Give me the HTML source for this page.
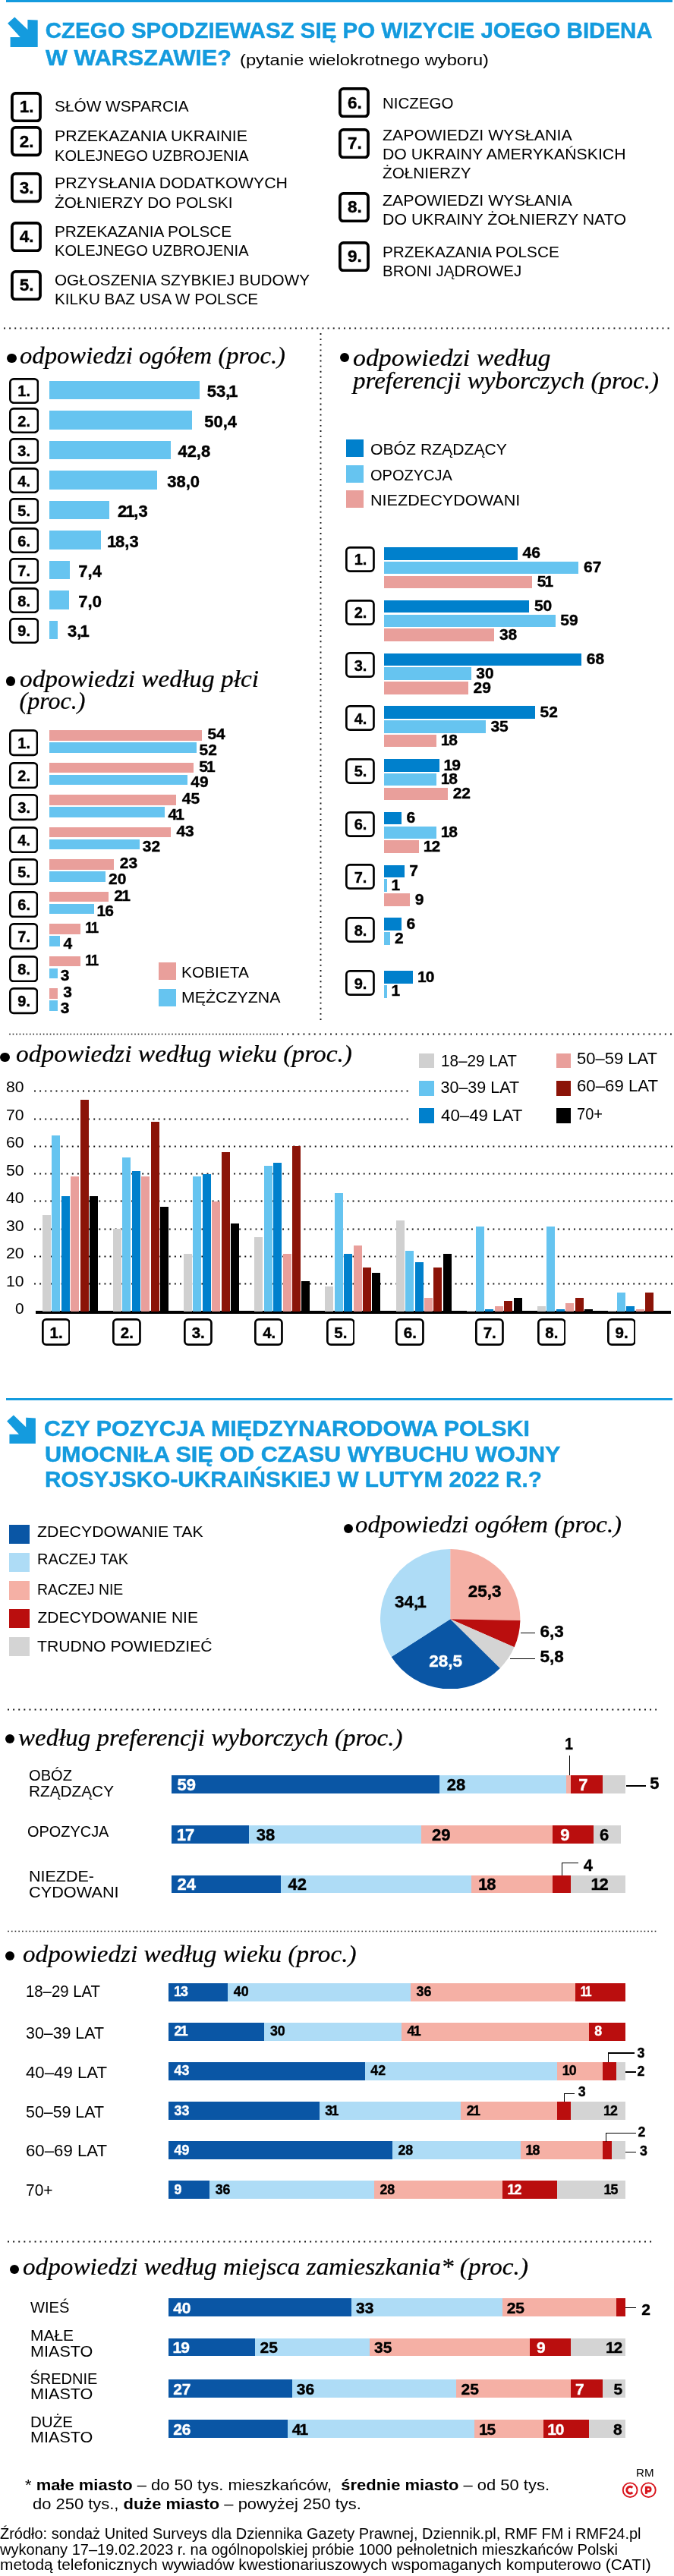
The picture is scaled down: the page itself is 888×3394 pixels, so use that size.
<!DOCTYPE html><html lang="pl"><head><meta charset="utf-8"><title>Sondaż</title><style>html,body{margin:0;padding:0;background:#fff}#p{will-change:transform;position:relative;width:888px;height:3394px;overflow:hidden;background:#fff;font-family:"Liberation Sans",sans-serif}</style></head><body><div id="p">
<div style="position:absolute;left:8.0px;top:0.0px;width:878.0px;height:2.5px;background:#149bde;"></div>
<svg style="position:absolute;left:10px;top:22px" width="42" height="42" viewBox="0 0 42 42"><path d="M0.1 8.8 L9.3 0.6 L26.4 16.9 L26.4 4 L39.7 4.6 L39.7 39.9 L3.6 39.9 L3.6 26.9 L16.7 26.9 Z" fill="#149bde"/></svg>
<span id="t0" style="position:absolute;top:24.58px;font-family:'Liberation Sans', sans-serif;font-size:29.5px;line-height:29.5px;white-space:nowrap;color:#149bde;font-weight:700;-webkit-text-stroke:0.45px #149bde;left:59.80px;transform-origin:0 0;">CZEGO SPODZIEWASZ SIĘ PO WIZYCIE JOEGO BIDENA</span>
<span id="t1" style="position:absolute;top:60.98px;font-family:'Liberation Sans', sans-serif;font-size:29.5px;line-height:29.5px;white-space:nowrap;color:#149bde;font-weight:700;-webkit-text-stroke:0.45px #149bde;left:59.80px;transform-origin:0 0;transform:scaleX(1.0382);">W WARSZAWIE?</span>
<span id="t2" style="position:absolute;top:67.99px;font-family:'Liberation Sans', sans-serif;font-size:21px;line-height:21px;white-space:nowrap;color:#000;left:316.00px;transform-origin:0 0;transform:scaleX(1.1285);">(pytanie wielokrotnego wyboru)</span>
<svg style="position:absolute;left:14.2px;top:120.9px" width="40.9" height="40.3"><rect x="1.90" y="1.90" width="37.10" height="36.50" rx="4.60" fill="#fff" stroke="#000" stroke-width="3.8"/></svg>
<span id="t3" style="position:absolute;top:130.41px;font-family:'Liberation Sans', sans-serif;font-size:22.5px;line-height:22.5px;white-space:nowrap;color:#000;font-weight:700;-webkit-text-stroke:0.4px #000;left:25.77px;transform-origin:0 0;">1.</span>
<span id="t4" style="position:absolute;top:129.94px;font-family:'Liberation Sans', sans-serif;font-size:20px;line-height:20px;white-space:nowrap;color:#000;left:71.80px;transform-origin:0 0;transform:scaleX(1.0409);">SŁÓW WSPARCIA</span>
<svg style="position:absolute;left:14.2px;top:166.3px" width="40.9" height="40.3"><rect x="1.90" y="1.90" width="37.10" height="36.50" rx="4.60" fill="#fff" stroke="#000" stroke-width="3.8"/></svg>
<span id="t5" style="position:absolute;top:175.81px;font-family:'Liberation Sans', sans-serif;font-size:22.5px;line-height:22.5px;white-space:nowrap;color:#000;font-weight:700;-webkit-text-stroke:0.4px #000;left:25.77px;transform-origin:0 0;">2.</span>
<span id="t6" style="position:absolute;top:169.44px;font-family:'Liberation Sans', sans-serif;font-size:20px;line-height:20px;white-space:nowrap;color:#000;left:71.80px;transform-origin:0 0;transform:scaleX(1.0679);">PRZEKAZANIA UKRAINIE</span>
<span id="t7" style="position:absolute;top:194.54px;font-family:'Liberation Sans', sans-serif;font-size:20px;line-height:20px;white-space:nowrap;color:#000;left:71.80px;transform-origin:0 0;transform:scaleX(1.0043);">KOLEJNEGO UZBROJENIA</span>
<svg style="position:absolute;left:14.2px;top:227.3px" width="40.9" height="40.3"><rect x="1.90" y="1.90" width="37.10" height="36.50" rx="4.60" fill="#fff" stroke="#000" stroke-width="3.8"/></svg>
<span id="t8" style="position:absolute;top:236.81px;font-family:'Liberation Sans', sans-serif;font-size:22.5px;line-height:22.5px;white-space:nowrap;color:#000;font-weight:700;-webkit-text-stroke:0.4px #000;left:25.77px;transform-origin:0 0;">3.</span>
<span id="t9" style="position:absolute;top:231.34px;font-family:'Liberation Sans', sans-serif;font-size:20px;line-height:20px;white-space:nowrap;color:#000;left:71.80px;transform-origin:0 0;transform:scaleX(1.0680);">PRZYSŁANIA DODATKOWYCH</span>
<span id="t10" style="position:absolute;top:256.74px;font-family:'Liberation Sans', sans-serif;font-size:20px;line-height:20px;white-space:nowrap;color:#000;left:71.80px;transform-origin:0 0;transform:scaleX(1.0411);">ŻOŁNIERZY DO POLSKI</span>
<svg style="position:absolute;left:14.2px;top:291.5px" width="40.9" height="40.3"><rect x="1.90" y="1.90" width="37.10" height="36.50" rx="4.60" fill="#fff" stroke="#000" stroke-width="3.8"/></svg>
<span id="t11" style="position:absolute;top:301.01px;font-family:'Liberation Sans', sans-serif;font-size:22.5px;line-height:22.5px;white-space:nowrap;color:#000;font-weight:700;-webkit-text-stroke:0.4px #000;left:25.77px;transform-origin:0 0;">4.</span>
<span id="t12" style="position:absolute;top:295.24px;font-family:'Liberation Sans', sans-serif;font-size:20px;line-height:20px;white-space:nowrap;color:#000;left:71.80px;transform-origin:0 0;transform:scaleX(1.0387);">PRZEKAZANIA POLSCE</span>
<span id="t13" style="position:absolute;top:320.34px;font-family:'Liberation Sans', sans-serif;font-size:20px;line-height:20px;white-space:nowrap;color:#000;left:71.80px;transform-origin:0 0;transform:scaleX(1.0043);">KOLEJNEGO UZBROJENIA</span>
<svg style="position:absolute;left:14.2px;top:355.7px" width="40.9" height="40.3"><rect x="1.90" y="1.90" width="37.10" height="36.50" rx="4.60" fill="#fff" stroke="#000" stroke-width="3.8"/></svg>
<span id="t14" style="position:absolute;top:365.21px;font-family:'Liberation Sans', sans-serif;font-size:22.5px;line-height:22.5px;white-space:nowrap;color:#000;font-weight:700;-webkit-text-stroke:0.4px #000;left:25.77px;transform-origin:0 0;">5.</span>
<span id="t15" style="position:absolute;top:359.14px;font-family:'Liberation Sans', sans-serif;font-size:20px;line-height:20px;white-space:nowrap;color:#000;left:71.80px;transform-origin:0 0;transform:scaleX(1.0354);">OGŁOSZENIA SZYBKIEJ BUDOWY</span>
<span id="t16" style="position:absolute;top:384.24px;font-family:'Liberation Sans', sans-serif;font-size:20px;line-height:20px;white-space:nowrap;color:#000;left:71.80px;transform-origin:0 0;transform:scaleX(1.0356);">KILKU BAZ USA W POLSCE</span>
<svg style="position:absolute;left:446.4px;top:115.1px" width="40.9" height="40.3"><rect x="1.90" y="1.90" width="37.10" height="36.50" rx="4.60" fill="#fff" stroke="#000" stroke-width="3.8"/></svg>
<span id="t17" style="position:absolute;top:124.61px;font-family:'Liberation Sans', sans-serif;font-size:22.5px;line-height:22.5px;white-space:nowrap;color:#000;font-weight:700;-webkit-text-stroke:0.4px #000;left:457.97px;transform-origin:0 0;">6.</span>
<span id="t18" style="position:absolute;top:125.84px;font-family:'Liberation Sans', sans-serif;font-size:20px;line-height:20px;white-space:nowrap;color:#000;left:503.80px;transform-origin:0 0;transform:scaleX(1.0261);">NICZEGO</span>
<svg style="position:absolute;left:446.4px;top:168.5px" width="40.9" height="40.3"><rect x="1.90" y="1.90" width="37.10" height="36.50" rx="4.60" fill="#fff" stroke="#000" stroke-width="3.8"/></svg>
<span id="t19" style="position:absolute;top:178.01px;font-family:'Liberation Sans', sans-serif;font-size:22.5px;line-height:22.5px;white-space:nowrap;color:#000;font-weight:700;-webkit-text-stroke:0.4px #000;left:457.97px;transform-origin:0 0;">7.</span>
<span id="t20" style="position:absolute;top:168.04px;font-family:'Liberation Sans', sans-serif;font-size:20px;line-height:20px;white-space:nowrap;color:#000;left:503.80px;transform-origin:0 0;transform:scaleX(1.0705);">ZAPOWIEDZI WYSŁANIA</span>
<span id="t21" style="position:absolute;top:193.04px;font-family:'Liberation Sans', sans-serif;font-size:20px;line-height:20px;white-space:nowrap;color:#000;left:503.80px;transform-origin:0 0;transform:scaleX(1.0628);">DO UKRAINY AMERYKAŃSKICH</span>
<span id="t22" style="position:absolute;top:218.04px;font-family:'Liberation Sans', sans-serif;font-size:20px;line-height:20px;white-space:nowrap;color:#000;left:503.80px;transform-origin:0 0;transform:scaleX(1.0379);">ŻOŁNIERZY</span>
<svg style="position:absolute;left:446.4px;top:252.8px" width="40.9" height="40.3"><rect x="1.90" y="1.90" width="37.10" height="36.50" rx="4.60" fill="#fff" stroke="#000" stroke-width="3.8"/></svg>
<span id="t23" style="position:absolute;top:262.31px;font-family:'Liberation Sans', sans-serif;font-size:22.5px;line-height:22.5px;white-space:nowrap;color:#000;font-weight:700;-webkit-text-stroke:0.4px #000;left:457.97px;transform-origin:0 0;">8.</span>
<span id="t24" style="position:absolute;top:253.64px;font-family:'Liberation Sans', sans-serif;font-size:20px;line-height:20px;white-space:nowrap;color:#000;left:503.80px;transform-origin:0 0;transform:scaleX(1.0705);">ZAPOWIEDZI WYSŁANIA</span>
<span id="t25" style="position:absolute;top:278.74px;font-family:'Liberation Sans', sans-serif;font-size:20px;line-height:20px;white-space:nowrap;color:#000;left:503.80px;transform-origin:0 0;transform:scaleX(1.0671);">DO UKRAINY ŻOŁNIERZY NATO</span>
<svg style="position:absolute;left:446.4px;top:317.7px" width="40.9" height="40.3"><rect x="1.90" y="1.90" width="37.10" height="36.50" rx="4.60" fill="#fff" stroke="#000" stroke-width="3.8"/></svg>
<span id="t26" style="position:absolute;top:327.21px;font-family:'Liberation Sans', sans-serif;font-size:22.5px;line-height:22.5px;white-space:nowrap;color:#000;font-weight:700;-webkit-text-stroke:0.4px #000;left:457.97px;transform-origin:0 0;">9.</span>
<span id="t27" style="position:absolute;top:321.84px;font-family:'Liberation Sans', sans-serif;font-size:20px;line-height:20px;white-space:nowrap;color:#000;left:503.80px;transform-origin:0 0;transform:scaleX(1.0365);">PRZEKAZANIA POLSCE</span>
<span id="t28" style="position:absolute;top:347.24px;font-family:'Liberation Sans', sans-serif;font-size:20px;line-height:20px;white-space:nowrap;color:#000;left:503.80px;transform-origin:0 0;transform:scaleX(1.0240);">BRONI JĄDROWEJ</span>
<svg style="position:absolute;left:4.9px;top:431.4px" width="881.1" height="3"><line x1="1" y1="1.5" x2="880.1" y2="1.5" stroke="#111" stroke-width="1.9" stroke-dasharray="0.01 7.1" stroke-linecap="square"/></svg>
<svg style="position:absolute;left:420.8px;top:439.0px" width="3" height="909.0"><line x1="1.5" y1="1" x2="1.5" y2="908.0" stroke="#111" stroke-width="1.9" stroke-dasharray="0.01 7.1" stroke-linecap="square"/></svg>
<div style="position:absolute;left:9px;top:465.6px;width:12.5px;height:12.5px;border-radius:50%;background:#000"></div>
<span id="t29" style="position:absolute;top:452.18px;font-family:'Liberation Serif', serif;font-size:32px;line-height:32px;white-space:nowrap;color:#000;font-style:italic;-webkit-text-stroke:0.22px #000;left:25.60px;transform-origin:0 0;transform:scaleX(1.0211);">odpowiedzi ogółem (proc.)</span>
<svg style="position:absolute;left:11.5px;top:497.5px" width="39.3" height="34.1"><rect x="1.35" y="1.35" width="36.60" height="31.40" rx="4.65" fill="#fff" stroke="#000" stroke-width="2.7"/></svg>
<span id="t30" style="position:absolute;top:505.09px;font-family:'Liberation Sans', sans-serif;font-size:20px;line-height:20px;white-space:nowrap;color:#000;font-weight:700;-webkit-text-stroke:0.4px #000;left:23.31px;transform-origin:0 0;">1.</span>
<div style="position:absolute;left:64.5px;top:501.6px;width:198.9px;height:24.5px;background:#66c4f0;"></div>
<span id="t31" style="position:absolute;top:505.24px;font-family:'Liberation Sans', sans-serif;font-size:22px;line-height:22px;white-space:nowrap;color:#000;font-weight:700;-webkit-text-stroke:0.4px #000;left:272.70px;transform-origin:0 0;">53,<span style="margin:0 -0.05em 0 -0.09em">1</span></span>
<svg style="position:absolute;left:11.5px;top:537.0px" width="39.3" height="34.1"><rect x="1.35" y="1.35" width="36.60" height="31.40" rx="4.65" fill="#fff" stroke="#000" stroke-width="2.7"/></svg>
<span id="t32" style="position:absolute;top:544.59px;font-family:'Liberation Sans', sans-serif;font-size:20px;line-height:20px;white-space:nowrap;color:#000;font-weight:700;-webkit-text-stroke:0.4px #000;left:23.31px;transform-origin:0 0;">2.</span>
<div style="position:absolute;left:64.5px;top:541.1px;width:188.8px;height:24.5px;background:#66c4f0;"></div>
<span id="t33" style="position:absolute;top:544.74px;font-family:'Liberation Sans', sans-serif;font-size:22px;line-height:22px;white-space:nowrap;color:#000;font-weight:700;-webkit-text-stroke:0.4px #000;left:269.20px;transform-origin:0 0;">50,4</span>
<svg style="position:absolute;left:11.5px;top:576.5px" width="39.3" height="34.1"><rect x="1.35" y="1.35" width="36.60" height="31.40" rx="4.65" fill="#fff" stroke="#000" stroke-width="2.7"/></svg>
<span id="t34" style="position:absolute;top:584.09px;font-family:'Liberation Sans', sans-serif;font-size:20px;line-height:20px;white-space:nowrap;color:#000;font-weight:700;-webkit-text-stroke:0.4px #000;left:23.31px;transform-origin:0 0;">3.</span>
<div style="position:absolute;left:64.5px;top:580.6px;width:160.3px;height:24.5px;background:#66c4f0;"></div>
<span id="t35" style="position:absolute;top:584.24px;font-family:'Liberation Sans', sans-serif;font-size:22px;line-height:22px;white-space:nowrap;color:#000;font-weight:700;-webkit-text-stroke:0.4px #000;left:234.40px;transform-origin:0 0;">42,8</span>
<svg style="position:absolute;left:11.5px;top:616.0px" width="39.3" height="34.1"><rect x="1.35" y="1.35" width="36.60" height="31.40" rx="4.65" fill="#fff" stroke="#000" stroke-width="2.7"/></svg>
<span id="t36" style="position:absolute;top:623.59px;font-family:'Liberation Sans', sans-serif;font-size:20px;line-height:20px;white-space:nowrap;color:#000;font-weight:700;-webkit-text-stroke:0.4px #000;left:23.31px;transform-origin:0 0;">4.</span>
<div style="position:absolute;left:64.5px;top:620.1px;width:142.3px;height:24.5px;background:#66c4f0;"></div>
<span id="t37" style="position:absolute;top:623.74px;font-family:'Liberation Sans', sans-serif;font-size:22px;line-height:22px;white-space:nowrap;color:#000;font-weight:700;-webkit-text-stroke:0.4px #000;left:220.20px;transform-origin:0 0;">38,0</span>
<svg style="position:absolute;left:11.5px;top:655.5px" width="39.3" height="34.1"><rect x="1.35" y="1.35" width="36.60" height="31.40" rx="4.65" fill="#fff" stroke="#000" stroke-width="2.7"/></svg>
<span id="t38" style="position:absolute;top:663.09px;font-family:'Liberation Sans', sans-serif;font-size:20px;line-height:20px;white-space:nowrap;color:#000;font-weight:700;-webkit-text-stroke:0.4px #000;left:23.31px;transform-origin:0 0;">5.</span>
<div style="position:absolute;left:64.5px;top:659.6px;width:79.8px;height:24.5px;background:#66c4f0;"></div>
<span id="t39" style="position:absolute;top:663.24px;font-family:'Liberation Sans', sans-serif;font-size:22px;line-height:22px;white-space:nowrap;color:#000;font-weight:700;-webkit-text-stroke:0.4px #000;left:154.90px;transform-origin:0 0;">2<span style="margin:0 -0.05em 0 -0.09em">1</span>,3</span>
<svg style="position:absolute;left:11.5px;top:695.0px" width="39.3" height="34.1"><rect x="1.35" y="1.35" width="36.60" height="31.40" rx="4.65" fill="#fff" stroke="#000" stroke-width="2.7"/></svg>
<span id="t40" style="position:absolute;top:702.59px;font-family:'Liberation Sans', sans-serif;font-size:20px;line-height:20px;white-space:nowrap;color:#000;font-weight:700;-webkit-text-stroke:0.4px #000;left:23.31px;transform-origin:0 0;">6.</span>
<div style="position:absolute;left:64.5px;top:699.1px;width:68.6px;height:24.5px;background:#66c4f0;"></div>
<span id="t41" style="position:absolute;top:702.74px;font-family:'Liberation Sans', sans-serif;font-size:22px;line-height:22px;white-space:nowrap;color:#000;font-weight:700;-webkit-text-stroke:0.4px #000;left:142.92px;transform-origin:0 0;"><span style="margin:0 -0.05em 0 -0.09em">1</span>8,3</span>
<svg style="position:absolute;left:11.5px;top:734.5px" width="39.3" height="34.1"><rect x="1.35" y="1.35" width="36.60" height="31.40" rx="4.65" fill="#fff" stroke="#000" stroke-width="2.7"/></svg>
<span id="t42" style="position:absolute;top:742.09px;font-family:'Liberation Sans', sans-serif;font-size:20px;line-height:20px;white-space:nowrap;color:#000;font-weight:700;-webkit-text-stroke:0.4px #000;left:23.31px;transform-origin:0 0;">7.</span>
<div style="position:absolute;left:64.5px;top:738.6px;width:27.7px;height:24.5px;background:#66c4f0;"></div>
<span id="t43" style="position:absolute;top:742.24px;font-family:'Liberation Sans', sans-serif;font-size:22px;line-height:22px;white-space:nowrap;color:#000;font-weight:700;-webkit-text-stroke:0.4px #000;left:103.30px;transform-origin:0 0;">7,4</span>
<svg style="position:absolute;left:11.5px;top:774.0px" width="39.3" height="34.1"><rect x="1.35" y="1.35" width="36.60" height="31.40" rx="4.65" fill="#fff" stroke="#000" stroke-width="2.7"/></svg>
<span id="t44" style="position:absolute;top:781.59px;font-family:'Liberation Sans', sans-serif;font-size:20px;line-height:20px;white-space:nowrap;color:#000;font-weight:700;-webkit-text-stroke:0.4px #000;left:23.31px;transform-origin:0 0;">8.</span>
<div style="position:absolute;left:64.5px;top:778.1px;width:26.2px;height:24.5px;background:#66c4f0;"></div>
<span id="t45" style="position:absolute;top:781.74px;font-family:'Liberation Sans', sans-serif;font-size:22px;line-height:22px;white-space:nowrap;color:#000;font-weight:700;-webkit-text-stroke:0.4px #000;left:103.30px;transform-origin:0 0;">7,0</span>
<svg style="position:absolute;left:11.5px;top:813.5px" width="39.3" height="34.1"><rect x="1.35" y="1.35" width="36.60" height="31.40" rx="4.65" fill="#fff" stroke="#000" stroke-width="2.7"/></svg>
<span id="t46" style="position:absolute;top:821.09px;font-family:'Liberation Sans', sans-serif;font-size:20px;line-height:20px;white-space:nowrap;color:#000;font-weight:700;-webkit-text-stroke:0.4px #000;left:23.31px;transform-origin:0 0;">9.</span>
<div style="position:absolute;left:64.5px;top:817.6px;width:11.6px;height:24.5px;background:#66c4f0;"></div>
<span id="t47" style="position:absolute;top:821.24px;font-family:'Liberation Sans', sans-serif;font-size:22px;line-height:22px;white-space:nowrap;color:#000;font-weight:700;-webkit-text-stroke:0.4px #000;left:89.00px;transform-origin:0 0;">3,<span style="margin:0 -0.05em 0 -0.09em">1</span></span>
<div style="position:absolute;left:447.8px;top:465.2px;width:11.8px;height:11.8px;border-radius:50%;background:#000"></div>
<span id="t48" style="position:absolute;top:455.18px;font-family:'Liberation Serif', serif;font-size:32px;line-height:32px;white-space:nowrap;color:#000;font-style:italic;-webkit-text-stroke:0.22px #000;left:465.00px;transform-origin:0 0;transform:scaleX(1.0580);">odpowiedzi według</span>
<span id="t49" style="position:absolute;top:485.18px;font-family:'Liberation Serif', serif;font-size:32px;line-height:32px;white-space:nowrap;color:#000;font-style:italic;-webkit-text-stroke:0.22px #000;left:465.00px;transform-origin:0 0;transform:scaleX(1.0316);">preferencji wyborczych (proc.)</span>
<div style="position:absolute;left:455.6px;top:579.3px;width:23.5px;height:23.0px;background:#0080cc;"></div>
<span id="t50" style="position:absolute;top:582.44px;font-family:'Liberation Sans', sans-serif;font-size:20px;line-height:20px;white-space:nowrap;color:#000;left:488.00px;transform-origin:0 0;transform:scaleX(1.0587);">OBÓZ RZĄDZĄCY</span>
<div style="position:absolute;left:455.6px;top:612.7px;width:23.5px;height:23.0px;background:#66c4f0;"></div>
<span id="t51" style="position:absolute;top:615.74px;font-family:'Liberation Sans', sans-serif;font-size:20px;line-height:20px;white-space:nowrap;color:#000;left:488.00px;transform-origin:0 0;">OPOZYCJA</span>
<div style="position:absolute;left:455.6px;top:646.1px;width:23.5px;height:23.0px;background:#e99f9b;"></div>
<span id="t52" style="position:absolute;top:649.04px;font-family:'Liberation Sans', sans-serif;font-size:20px;line-height:20px;white-space:nowrap;color:#000;left:488.00px;transform-origin:0 0;transform:scaleX(1.0804);">NIEZDECYDOWANI</span>
<svg style="position:absolute;left:455.1px;top:719.8px" width="38.8" height="34.0"><rect x="1.35" y="1.35" width="36.10" height="31.30" rx="4.65" fill="#fff" stroke="#000" stroke-width="2.7"/></svg>
<span id="t53" style="position:absolute;top:727.34px;font-family:'Liberation Sans', sans-serif;font-size:20px;line-height:20px;white-space:nowrap;color:#000;font-weight:700;-webkit-text-stroke:0.4px #000;left:466.66px;transform-origin:0 0;">1.</span>
<div style="position:absolute;left:505.9px;top:721.0px;width:176.2px;height:16.6px;background:#0080cc;"></div>
<span id="t54" style="position:absolute;top:717.49px;font-family:'Liberation Sans', sans-serif;font-size:21px;line-height:21px;white-space:nowrap;color:#000;font-weight:700;-webkit-text-stroke:0.4px #000;left:688.58px;transform-origin:0 0;">46</span>
<div style="position:absolute;left:505.9px;top:739.8px;width:256.6px;height:16.6px;background:#66c4f0;"></div>
<span id="t55" style="position:absolute;top:736.29px;font-family:'Liberation Sans', sans-serif;font-size:21px;line-height:21px;white-space:nowrap;color:#000;font-weight:700;-webkit-text-stroke:0.4px #000;left:769.01px;transform-origin:0 0;">67</span>
<div style="position:absolute;left:505.9px;top:758.6px;width:195.3px;height:16.6px;background:#e99f9b;"></div>
<span id="t56" style="position:absolute;top:755.09px;font-family:'Liberation Sans', sans-serif;font-size:21px;line-height:21px;white-space:nowrap;color:#000;font-weight:700;-webkit-text-stroke:0.4px #000;left:707.73px;transform-origin:0 0;">5<span style="margin:0 -0.05em 0 -0.09em">1</span></span>
<svg style="position:absolute;left:455.1px;top:789.6px" width="38.8" height="34.0"><rect x="1.35" y="1.35" width="36.10" height="31.30" rx="4.65" fill="#fff" stroke="#000" stroke-width="2.7"/></svg>
<span id="t57" style="position:absolute;top:797.11px;font-family:'Liberation Sans', sans-serif;font-size:20px;line-height:20px;white-space:nowrap;color:#000;font-weight:700;-webkit-text-stroke:0.4px #000;left:466.66px;transform-origin:0 0;">2.</span>
<div style="position:absolute;left:505.9px;top:790.8px;width:191.5px;height:16.6px;background:#0080cc;"></div>
<span id="t58" style="position:absolute;top:787.26px;font-family:'Liberation Sans', sans-serif;font-size:21px;line-height:21px;white-space:nowrap;color:#000;font-weight:700;-webkit-text-stroke:0.4px #000;left:703.90px;transform-origin:0 0;">50</span>
<div style="position:absolute;left:505.9px;top:809.6px;width:226.0px;height:16.6px;background:#66c4f0;"></div>
<span id="t59" style="position:absolute;top:806.06px;font-family:'Liberation Sans', sans-serif;font-size:21px;line-height:21px;white-space:nowrap;color:#000;font-weight:700;-webkit-text-stroke:0.4px #000;left:738.37px;transform-origin:0 0;">59</span>
<div style="position:absolute;left:505.9px;top:828.4px;width:145.5px;height:16.6px;background:#e99f9b;"></div>
<span id="t60" style="position:absolute;top:824.86px;font-family:'Liberation Sans', sans-serif;font-size:21px;line-height:21px;white-space:nowrap;color:#000;font-weight:700;-webkit-text-stroke:0.4px #000;left:657.94px;transform-origin:0 0;">38</span>
<svg style="position:absolute;left:455.1px;top:859.3px" width="38.8" height="34.0"><rect x="1.35" y="1.35" width="36.10" height="31.30" rx="4.65" fill="#fff" stroke="#000" stroke-width="2.7"/></svg>
<span id="t61" style="position:absolute;top:866.88px;font-family:'Liberation Sans', sans-serif;font-size:20px;line-height:20px;white-space:nowrap;color:#000;font-weight:700;-webkit-text-stroke:0.4px #000;left:466.66px;transform-origin:0 0;">3.</span>
<div style="position:absolute;left:505.9px;top:860.5px;width:260.4px;height:16.6px;background:#0080cc;"></div>
<span id="t62" style="position:absolute;top:857.03px;font-family:'Liberation Sans', sans-serif;font-size:21px;line-height:21px;white-space:nowrap;color:#000;font-weight:700;-webkit-text-stroke:0.4px #000;left:772.84px;transform-origin:0 0;">68</span>
<div style="position:absolute;left:505.9px;top:879.3px;width:114.9px;height:16.6px;background:#66c4f0;"></div>
<span id="t63" style="position:absolute;top:875.83px;font-family:'Liberation Sans', sans-serif;font-size:21px;line-height:21px;white-space:nowrap;color:#000;font-weight:700;-webkit-text-stroke:0.4px #000;left:627.30px;transform-origin:0 0;">30</span>
<div style="position:absolute;left:505.9px;top:898.1px;width:111.1px;height:16.6px;background:#e99f9b;"></div>
<span id="t64" style="position:absolute;top:894.63px;font-family:'Liberation Sans', sans-serif;font-size:21px;line-height:21px;white-space:nowrap;color:#000;font-weight:700;-webkit-text-stroke:0.4px #000;left:623.47px;transform-origin:0 0;">29</span>
<svg style="position:absolute;left:455.1px;top:929.1px" width="38.8" height="34.0"><rect x="1.35" y="1.35" width="36.10" height="31.30" rx="4.65" fill="#fff" stroke="#000" stroke-width="2.7"/></svg>
<span id="t65" style="position:absolute;top:936.65px;font-family:'Liberation Sans', sans-serif;font-size:20px;line-height:20px;white-space:nowrap;color:#000;font-weight:700;-webkit-text-stroke:0.4px #000;left:466.66px;transform-origin:0 0;">4.</span>
<div style="position:absolute;left:505.9px;top:930.3px;width:199.2px;height:16.6px;background:#0080cc;"></div>
<span id="t66" style="position:absolute;top:926.80px;font-family:'Liberation Sans', sans-serif;font-size:21px;line-height:21px;white-space:nowrap;color:#000;font-weight:700;-webkit-text-stroke:0.4px #000;left:711.56px;transform-origin:0 0;">52</span>
<div style="position:absolute;left:505.9px;top:949.1px;width:134.1px;height:16.6px;background:#66c4f0;"></div>
<span id="t67" style="position:absolute;top:945.60px;font-family:'Liberation Sans', sans-serif;font-size:21px;line-height:21px;white-space:nowrap;color:#000;font-weight:700;-webkit-text-stroke:0.4px #000;left:646.45px;transform-origin:0 0;">35</span>
<div style="position:absolute;left:505.9px;top:967.9px;width:68.9px;height:16.6px;background:#e99f9b;"></div>
<span id="t68" style="position:absolute;top:964.40px;font-family:'Liberation Sans', sans-serif;font-size:21px;line-height:21px;white-space:nowrap;color:#000;font-weight:700;-webkit-text-stroke:0.4px #000;left:582.60px;transform-origin:0 0;"><span style="margin:0 -0.05em 0 -0.09em">1</span>8</span>
<svg style="position:absolute;left:455.1px;top:998.9px" width="38.8" height="34.0"><rect x="1.35" y="1.35" width="36.10" height="31.30" rx="4.65" fill="#fff" stroke="#000" stroke-width="2.7"/></svg>
<span id="t69" style="position:absolute;top:1006.42px;font-family:'Liberation Sans', sans-serif;font-size:20px;line-height:20px;white-space:nowrap;color:#000;font-weight:700;-webkit-text-stroke:0.4px #000;left:466.66px;transform-origin:0 0;">5.</span>
<div style="position:absolute;left:505.9px;top:1000.1px;width:72.8px;height:16.6px;background:#0080cc;"></div>
<span id="t70" style="position:absolute;top:996.57px;font-family:'Liberation Sans', sans-serif;font-size:21px;line-height:21px;white-space:nowrap;color:#000;font-weight:700;-webkit-text-stroke:0.4px #000;left:586.43px;transform-origin:0 0;"><span style="margin:0 -0.05em 0 -0.09em">1</span>9</span>
<div style="position:absolute;left:505.9px;top:1018.9px;width:68.9px;height:16.6px;background:#66c4f0;"></div>
<span id="t71" style="position:absolute;top:1015.37px;font-family:'Liberation Sans', sans-serif;font-size:21px;line-height:21px;white-space:nowrap;color:#000;font-weight:700;-webkit-text-stroke:0.4px #000;left:582.60px;transform-origin:0 0;"><span style="margin:0 -0.05em 0 -0.09em">1</span>8</span>
<div style="position:absolute;left:505.9px;top:1037.7px;width:84.3px;height:16.6px;background:#e99f9b;"></div>
<span id="t72" style="position:absolute;top:1034.17px;font-family:'Liberation Sans', sans-serif;font-size:21px;line-height:21px;white-space:nowrap;color:#000;font-weight:700;-webkit-text-stroke:0.4px #000;left:596.66px;transform-origin:0 0;">22</span>
<svg style="position:absolute;left:455.1px;top:1068.6px" width="38.8" height="34.0"><rect x="1.35" y="1.35" width="36.10" height="31.30" rx="4.65" fill="#fff" stroke="#000" stroke-width="2.7"/></svg>
<span id="t73" style="position:absolute;top:1076.19px;font-family:'Liberation Sans', sans-serif;font-size:20px;line-height:20px;white-space:nowrap;color:#000;font-weight:700;-webkit-text-stroke:0.4px #000;left:466.66px;transform-origin:0 0;">6.</span>
<div style="position:absolute;left:505.9px;top:1069.8px;width:23.0px;height:16.6px;background:#0080cc;"></div>
<span id="t74" style="position:absolute;top:1066.34px;font-family:'Liberation Sans', sans-serif;font-size:21px;line-height:21px;white-space:nowrap;color:#000;font-weight:700;-webkit-text-stroke:0.4px #000;left:535.38px;transform-origin:0 0;">6</span>
<div style="position:absolute;left:505.9px;top:1088.6px;width:68.9px;height:16.6px;background:#66c4f0;"></div>
<span id="t75" style="position:absolute;top:1085.14px;font-family:'Liberation Sans', sans-serif;font-size:21px;line-height:21px;white-space:nowrap;color:#000;font-weight:700;-webkit-text-stroke:0.4px #000;left:582.60px;transform-origin:0 0;"><span style="margin:0 -0.05em 0 -0.09em">1</span>8</span>
<div style="position:absolute;left:505.9px;top:1107.4px;width:46.0px;height:16.6px;background:#e99f9b;"></div>
<span id="t76" style="position:absolute;top:1103.94px;font-family:'Liberation Sans', sans-serif;font-size:21px;line-height:21px;white-space:nowrap;color:#000;font-weight:700;-webkit-text-stroke:0.4px #000;left:559.62px;transform-origin:0 0;"><span style="margin:0 -0.05em 0 -0.09em">1</span>2</span>
<svg style="position:absolute;left:455.1px;top:1138.4px" width="38.8" height="34.0"><rect x="1.35" y="1.35" width="36.10" height="31.30" rx="4.65" fill="#fff" stroke="#000" stroke-width="2.7"/></svg>
<span id="t77" style="position:absolute;top:1145.96px;font-family:'Liberation Sans', sans-serif;font-size:20px;line-height:20px;white-space:nowrap;color:#000;font-weight:700;-webkit-text-stroke:0.4px #000;left:466.66px;transform-origin:0 0;">7.</span>
<div style="position:absolute;left:505.9px;top:1139.6px;width:26.8px;height:16.6px;background:#0080cc;"></div>
<span id="t78" style="position:absolute;top:1136.11px;font-family:'Liberation Sans', sans-serif;font-size:21px;line-height:21px;white-space:nowrap;color:#000;font-weight:700;-webkit-text-stroke:0.4px #000;left:539.21px;transform-origin:0 0;">7</span>
<div style="position:absolute;left:505.9px;top:1158.4px;width:3.8px;height:16.6px;background:#66c4f0;"></div>
<span id="t79" style="position:absolute;top:1154.91px;font-family:'Liberation Sans', sans-serif;font-size:21px;line-height:21px;white-space:nowrap;color:#000;font-weight:700;-webkit-text-stroke:0.4px #000;left:517.49px;transform-origin:0 0;"><span style="margin:0 -0.05em 0 -0.09em">1</span></span>
<div style="position:absolute;left:505.9px;top:1177.2px;width:34.5px;height:16.6px;background:#e99f9b;"></div>
<span id="t80" style="position:absolute;top:1173.71px;font-family:'Liberation Sans', sans-serif;font-size:21px;line-height:21px;white-space:nowrap;color:#000;font-weight:700;-webkit-text-stroke:0.4px #000;left:546.87px;transform-origin:0 0;">9</span>
<svg style="position:absolute;left:455.1px;top:1208.2px" width="38.8" height="34.0"><rect x="1.35" y="1.35" width="36.10" height="31.30" rx="4.65" fill="#fff" stroke="#000" stroke-width="2.7"/></svg>
<span id="t81" style="position:absolute;top:1215.73px;font-family:'Liberation Sans', sans-serif;font-size:20px;line-height:20px;white-space:nowrap;color:#000;font-weight:700;-webkit-text-stroke:0.4px #000;left:466.66px;transform-origin:0 0;">8.</span>
<div style="position:absolute;left:505.9px;top:1209.4px;width:23.0px;height:16.6px;background:#0080cc;"></div>
<span id="t82" style="position:absolute;top:1205.88px;font-family:'Liberation Sans', sans-serif;font-size:21px;line-height:21px;white-space:nowrap;color:#000;font-weight:700;-webkit-text-stroke:0.4px #000;left:535.38px;transform-origin:0 0;">6</span>
<div style="position:absolute;left:505.9px;top:1228.2px;width:7.7px;height:16.6px;background:#66c4f0;"></div>
<span id="t83" style="position:absolute;top:1224.68px;font-family:'Liberation Sans', sans-serif;font-size:21px;line-height:21px;white-space:nowrap;color:#000;font-weight:700;-webkit-text-stroke:0.4px #000;left:520.06px;transform-origin:0 0;">2</span>
<svg style="position:absolute;left:455.1px;top:1278.0px" width="38.8" height="34.0"><rect x="1.35" y="1.35" width="36.10" height="31.30" rx="4.65" fill="#fff" stroke="#000" stroke-width="2.7"/></svg>
<span id="t84" style="position:absolute;top:1285.50px;font-family:'Liberation Sans', sans-serif;font-size:20px;line-height:20px;white-space:nowrap;color:#000;font-weight:700;-webkit-text-stroke:0.4px #000;left:466.66px;transform-origin:0 0;">9.</span>
<div style="position:absolute;left:505.9px;top:1279.2px;width:38.3px;height:16.6px;background:#0080cc;"></div>
<span id="t85" style="position:absolute;top:1275.65px;font-family:'Liberation Sans', sans-serif;font-size:21px;line-height:21px;white-space:nowrap;color:#000;font-weight:700;-webkit-text-stroke:0.4px #000;left:551.96px;transform-origin:0 0;"><span style="margin:0 -0.05em 0 -0.09em">1</span>0</span>
<div style="position:absolute;left:505.9px;top:1298.0px;width:3.8px;height:16.6px;background:#66c4f0;"></div>
<span id="t86" style="position:absolute;top:1294.45px;font-family:'Liberation Sans', sans-serif;font-size:21px;line-height:21px;white-space:nowrap;color:#000;font-weight:700;-webkit-text-stroke:0.4px #000;left:517.49px;transform-origin:0 0;"><span style="margin:0 -0.05em 0 -0.09em">1</span></span>
<div style="position:absolute;left:7.8px;top:891px;width:12.5px;height:12.5px;border-radius:50%;background:#000"></div>
<span id="t87" style="position:absolute;top:877.98px;font-family:'Liberation Serif', serif;font-size:32px;line-height:32px;white-space:nowrap;color:#000;font-style:italic;-webkit-text-stroke:0.22px #000;left:25.60px;transform-origin:0 0;transform:scaleX(1.0423);">odpowiedzi według płci</span>
<span id="t88" style="position:absolute;top:906.98px;font-family:'Liberation Serif', serif;font-size:32px;line-height:32px;white-space:nowrap;color:#000;font-style:italic;-webkit-text-stroke:0.22px #000;left:25.60px;transform-origin:0 0;">(proc.)</span>
<svg style="position:absolute;left:12.0px;top:961.3px" width="38.3" height="35.3"><rect x="1.35" y="1.35" width="35.60" height="32.60" rx="4.65" fill="#fff" stroke="#000" stroke-width="2.7"/></svg>
<span id="t89" style="position:absolute;top:969.49px;font-family:'Liberation Sans', sans-serif;font-size:20px;line-height:20px;white-space:nowrap;color:#000;font-weight:700;-webkit-text-stroke:0.4px #000;left:23.31px;transform-origin:0 0;">1.</span>
<div style="position:absolute;left:64.5px;top:962.3px;width:201.4px;height:13.6px;background:#e99f9b;"></div>
<span id="t90" style="position:absolute;top:956.49px;font-family:'Liberation Sans', sans-serif;font-size:21px;line-height:21px;white-space:nowrap;color:#000;font-weight:700;-webkit-text-stroke:0.4px #000;left:273.42px;transform-origin:0 0;">54</span>
<div style="position:absolute;left:64.5px;top:978.0px;width:194.0px;height:13.6px;background:#66c4f0;"></div>
<span id="t91" style="position:absolute;top:976.99px;font-family:'Liberation Sans', sans-serif;font-size:21px;line-height:21px;white-space:nowrap;color:#000;font-weight:700;-webkit-text-stroke:0.4px #000;left:262.46px;transform-origin:0 0;">52</span>
<svg style="position:absolute;left:12.0px;top:1003.8px" width="38.3" height="35.3"><rect x="1.35" y="1.35" width="35.60" height="32.60" rx="4.65" fill="#fff" stroke="#000" stroke-width="2.7"/></svg>
<span id="t92" style="position:absolute;top:1011.99px;font-family:'Liberation Sans', sans-serif;font-size:20px;line-height:20px;white-space:nowrap;color:#000;font-weight:700;-webkit-text-stroke:0.4px #000;left:23.31px;transform-origin:0 0;">2.</span>
<div style="position:absolute;left:64.5px;top:1004.8px;width:190.2px;height:13.6px;background:#e99f9b;"></div>
<span id="t93" style="position:absolute;top:998.99px;font-family:'Liberation Sans', sans-serif;font-size:21px;line-height:21px;white-space:nowrap;color:#000;font-weight:700;-webkit-text-stroke:0.4px #000;left:262.23px;transform-origin:0 0;">5<span style="margin:0 -0.05em 0 -0.09em">1</span></span>
<div style="position:absolute;left:64.5px;top:1020.5px;width:182.8px;height:13.6px;background:#66c4f0;"></div>
<span id="t94" style="position:absolute;top:1019.49px;font-family:'Liberation Sans', sans-serif;font-size:21px;line-height:21px;white-space:nowrap;color:#000;font-weight:700;-webkit-text-stroke:0.4px #000;left:251.27px;transform-origin:0 0;">49</span>
<svg style="position:absolute;left:12.0px;top:1046.3px" width="38.3" height="35.3"><rect x="1.35" y="1.35" width="35.60" height="32.60" rx="4.65" fill="#fff" stroke="#000" stroke-width="2.7"/></svg>
<span id="t95" style="position:absolute;top:1054.49px;font-family:'Liberation Sans', sans-serif;font-size:20px;line-height:20px;white-space:nowrap;color:#000;font-weight:700;-webkit-text-stroke:0.4px #000;left:23.31px;transform-origin:0 0;">3.</span>
<div style="position:absolute;left:64.5px;top:1047.3px;width:167.8px;height:13.6px;background:#e99f9b;"></div>
<span id="t96" style="position:absolute;top:1041.49px;font-family:'Liberation Sans', sans-serif;font-size:21px;line-height:21px;white-space:nowrap;color:#000;font-weight:700;-webkit-text-stroke:0.4px #000;left:239.85px;transform-origin:0 0;">45</span>
<div style="position:absolute;left:64.5px;top:1063.0px;width:152.9px;height:13.6px;background:#66c4f0;"></div>
<span id="t97" style="position:absolute;top:1061.99px;font-family:'Liberation Sans', sans-serif;font-size:21px;line-height:21px;white-space:nowrap;color:#000;font-weight:700;-webkit-text-stroke:0.4px #000;left:221.43px;transform-origin:0 0;">4<span style="margin:0 -0.05em 0 -0.09em">1</span></span>
<svg style="position:absolute;left:12.0px;top:1088.8px" width="38.3" height="35.3"><rect x="1.35" y="1.35" width="35.60" height="32.60" rx="4.65" fill="#fff" stroke="#000" stroke-width="2.7"/></svg>
<span id="t98" style="position:absolute;top:1096.99px;font-family:'Liberation Sans', sans-serif;font-size:20px;line-height:20px;white-space:nowrap;color:#000;font-weight:700;-webkit-text-stroke:0.4px #000;left:23.31px;transform-origin:0 0;">4.</span>
<div style="position:absolute;left:64.5px;top:1089.8px;width:160.4px;height:13.6px;background:#e99f9b;"></div>
<span id="t99" style="position:absolute;top:1083.99px;font-family:'Liberation Sans', sans-serif;font-size:21px;line-height:21px;white-space:nowrap;color:#000;font-weight:700;-webkit-text-stroke:0.4px #000;left:232.39px;transform-origin:0 0;">43</span>
<div style="position:absolute;left:64.5px;top:1105.5px;width:119.4px;height:13.6px;background:#66c4f0;"></div>
<span id="t100" style="position:absolute;top:1104.49px;font-family:'Liberation Sans', sans-serif;font-size:21px;line-height:21px;white-space:nowrap;color:#000;font-weight:700;-webkit-text-stroke:0.4px #000;left:187.86px;transform-origin:0 0;">32</span>
<svg style="position:absolute;left:12.0px;top:1131.3px" width="38.3" height="35.3"><rect x="1.35" y="1.35" width="35.60" height="32.60" rx="4.65" fill="#fff" stroke="#000" stroke-width="2.7"/></svg>
<span id="t101" style="position:absolute;top:1139.49px;font-family:'Liberation Sans', sans-serif;font-size:20px;line-height:20px;white-space:nowrap;color:#000;font-weight:700;-webkit-text-stroke:0.4px #000;left:23.31px;transform-origin:0 0;">5.</span>
<div style="position:absolute;left:64.5px;top:1132.3px;width:85.8px;height:13.6px;background:#e99f9b;"></div>
<span id="t102" style="position:absolute;top:1126.49px;font-family:'Liberation Sans', sans-serif;font-size:21px;line-height:21px;white-space:nowrap;color:#000;font-weight:700;-webkit-text-stroke:0.4px #000;left:157.79px;transform-origin:0 0;">23</span>
<div style="position:absolute;left:64.5px;top:1148.0px;width:74.6px;height:13.6px;background:#66c4f0;"></div>
<span id="t103" style="position:absolute;top:1146.99px;font-family:'Liberation Sans', sans-serif;font-size:21px;line-height:21px;white-space:nowrap;color:#000;font-weight:700;-webkit-text-stroke:0.4px #000;left:143.10px;transform-origin:0 0;">20</span>
<svg style="position:absolute;left:12.0px;top:1173.8px" width="38.3" height="35.3"><rect x="1.35" y="1.35" width="35.60" height="32.60" rx="4.65" fill="#fff" stroke="#000" stroke-width="2.7"/></svg>
<span id="t104" style="position:absolute;top:1181.99px;font-family:'Liberation Sans', sans-serif;font-size:20px;line-height:20px;white-space:nowrap;color:#000;font-weight:700;-webkit-text-stroke:0.4px #000;left:23.31px;transform-origin:0 0;">6.</span>
<div style="position:absolute;left:64.5px;top:1174.8px;width:78.3px;height:13.6px;background:#e99f9b;"></div>
<span id="t105" style="position:absolute;top:1168.99px;font-family:'Liberation Sans', sans-serif;font-size:21px;line-height:21px;white-space:nowrap;color:#000;font-weight:700;-webkit-text-stroke:0.4px #000;left:150.33px;transform-origin:0 0;">2<span style="margin:0 -0.05em 0 -0.09em">1</span></span>
<div style="position:absolute;left:64.5px;top:1190.5px;width:59.7px;height:13.6px;background:#66c4f0;"></div>
<span id="t106" style="position:absolute;top:1189.49px;font-family:'Liberation Sans', sans-serif;font-size:21px;line-height:21px;white-space:nowrap;color:#000;font-weight:700;-webkit-text-stroke:0.4px #000;left:129.44px;transform-origin:0 0;"><span style="margin:0 -0.05em 0 -0.09em">1</span>6</span>
<svg style="position:absolute;left:12.0px;top:1216.3px" width="38.3" height="35.3"><rect x="1.35" y="1.35" width="35.60" height="32.60" rx="4.65" fill="#fff" stroke="#000" stroke-width="2.7"/></svg>
<span id="t107" style="position:absolute;top:1224.49px;font-family:'Liberation Sans', sans-serif;font-size:20px;line-height:20px;white-space:nowrap;color:#000;font-weight:700;-webkit-text-stroke:0.4px #000;left:23.31px;transform-origin:0 0;">7.</span>
<div style="position:absolute;left:64.5px;top:1217.3px;width:41.0px;height:13.6px;background:#e99f9b;"></div>
<span id="t108" style="position:absolute;top:1211.49px;font-family:'Liberation Sans', sans-serif;font-size:21px;line-height:21px;white-space:nowrap;color:#000;font-weight:700;-webkit-text-stroke:0.4px #000;left:114.29px;transform-origin:0 0;transform:scaleX(0.8700);"><span style="margin:0 -0.05em 0 -0.09em">1</span><span style="margin:0 -0.05em 0 -0.09em">1</span></span>
<div style="position:absolute;left:64.5px;top:1233.0px;width:14.9px;height:13.6px;background:#66c4f0;"></div>
<span id="t109" style="position:absolute;top:1231.99px;font-family:'Liberation Sans', sans-serif;font-size:21px;line-height:21px;white-space:nowrap;color:#000;font-weight:700;-webkit-text-stroke:0.4px #000;left:83.42px;transform-origin:0 0;">4</span>
<svg style="position:absolute;left:12.0px;top:1258.8px" width="38.3" height="35.3"><rect x="1.35" y="1.35" width="35.60" height="32.60" rx="4.65" fill="#fff" stroke="#000" stroke-width="2.7"/></svg>
<span id="t110" style="position:absolute;top:1266.99px;font-family:'Liberation Sans', sans-serif;font-size:20px;line-height:20px;white-space:nowrap;color:#000;font-weight:700;-webkit-text-stroke:0.4px #000;left:23.31px;transform-origin:0 0;">8.</span>
<div style="position:absolute;left:64.5px;top:1259.8px;width:41.0px;height:13.6px;background:#e99f9b;"></div>
<span id="t111" style="position:absolute;top:1253.99px;font-family:'Liberation Sans', sans-serif;font-size:21px;line-height:21px;white-space:nowrap;color:#000;font-weight:700;-webkit-text-stroke:0.4px #000;left:114.29px;transform-origin:0 0;transform:scaleX(0.8700);"><span style="margin:0 -0.05em 0 -0.09em">1</span><span style="margin:0 -0.05em 0 -0.09em">1</span></span>
<div style="position:absolute;left:64.5px;top:1275.5px;width:11.2px;height:13.6px;background:#66c4f0;"></div>
<span id="t112" style="position:absolute;top:1274.49px;font-family:'Liberation Sans', sans-serif;font-size:21px;line-height:21px;white-space:nowrap;color:#000;font-weight:700;-webkit-text-stroke:0.4px #000;left:79.69px;transform-origin:0 0;">3</span>
<svg style="position:absolute;left:12.0px;top:1301.3px" width="38.3" height="35.3"><rect x="1.35" y="1.35" width="35.60" height="32.60" rx="4.65" fill="#fff" stroke="#000" stroke-width="2.7"/></svg>
<span id="t113" style="position:absolute;top:1309.49px;font-family:'Liberation Sans', sans-serif;font-size:20px;line-height:20px;white-space:nowrap;color:#000;font-weight:700;-webkit-text-stroke:0.4px #000;left:23.31px;transform-origin:0 0;">9.</span>
<div style="position:absolute;left:64.5px;top:1302.3px;width:11.2px;height:13.6px;background:#e99f9b;"></div>
<span id="t114" style="position:absolute;top:1296.49px;font-family:'Liberation Sans', sans-serif;font-size:21px;line-height:21px;white-space:nowrap;color:#000;font-weight:700;-webkit-text-stroke:0.4px #000;left:83.19px;transform-origin:0 0;">3</span>
<div style="position:absolute;left:64.5px;top:1318.0px;width:11.2px;height:13.6px;background:#66c4f0;"></div>
<span id="t115" style="position:absolute;top:1316.99px;font-family:'Liberation Sans', sans-serif;font-size:21px;line-height:21px;white-space:nowrap;color:#000;font-weight:700;-webkit-text-stroke:0.4px #000;left:79.69px;transform-origin:0 0;">3</span>
<div style="position:absolute;left:208.8px;top:1268.4px;width:23.0px;height:23.0px;background:#e99f9b;"></div>
<span id="t116" style="position:absolute;top:1271.04px;font-family:'Liberation Sans', sans-serif;font-size:20px;line-height:20px;white-space:nowrap;color:#000;left:238.50px;transform-origin:0 0;transform:scaleX(1.0444);">KOBIETA</span>
<div style="position:absolute;left:208.8px;top:1302.7px;width:23.0px;height:23.0px;background:#66c4f0;"></div>
<span id="t117" style="position:absolute;top:1304.04px;font-family:'Liberation Sans', sans-serif;font-size:20px;line-height:20px;white-space:nowrap;color:#000;left:238.50px;transform-origin:0 0;transform:scaleX(1.0678);">MĘŻCZYZNA</span>
<svg style="position:absolute;left:11.8px;top:1361.3px" width="357.2" height="3"><line x1="1" y1="1.5" x2="356.2" y2="1.5" stroke="#111" stroke-width="1.6" stroke-dasharray="0.01 4.45" stroke-linecap="square"/></svg>
<svg style="position:absolute;left:371.0px;top:1361.3px" width="515.0" height="3"><line x1="1" y1="1.5" x2="514.0" y2="1.5" stroke="#111" stroke-width="1.9" stroke-dasharray="0.01 7.1" stroke-linecap="square"/></svg>
<div style="position:absolute;left:0.3px;top:1386.8px;width:12.3px;height:12.3px;border-radius:50%;background:#000"></div>
<span id="t118" style="position:absolute;top:1372.48px;font-family:'Liberation Serif', serif;font-size:32px;line-height:32px;white-space:nowrap;color:#000;font-style:italic;-webkit-text-stroke:0.22px #000;left:21.00px;transform-origin:0 0;transform:scaleX(1.0457);">odpowiedzi według wieku (proc.)</span>
<span id="t119" style="position:absolute;top:1714.24px;font-family:'Liberation Sans', sans-serif;font-size:20px;line-height:20px;white-space:nowrap;color:#000;left:20.00px;transform-origin:0 0;transform:scaleX(1.0427);">0</span>
<span id="t120" style="position:absolute;top:1677.72px;font-family:'Liberation Sans', sans-serif;font-size:20px;line-height:20px;white-space:nowrap;color:#000;left:8.00px;transform-origin:0 0;transform:scaleX(1.0607);">10</span>
<svg style="position:absolute;left:45.2px;top:1690.3px" width="841.8" height="3"><line x1="1" y1="1.5" x2="840.8" y2="1.5" stroke="#111" stroke-width="1.9" stroke-dasharray="0.01 7.1" stroke-linecap="square"/></svg>
<span id="t121" style="position:absolute;top:1641.20px;font-family:'Liberation Sans', sans-serif;font-size:20px;line-height:20px;white-space:nowrap;color:#000;left:8.00px;transform-origin:0 0;transform:scaleX(1.0607);">20</span>
<svg style="position:absolute;left:45.2px;top:1654.0px" width="841.8" height="3"><line x1="1" y1="1.5" x2="840.8" y2="1.5" stroke="#111" stroke-width="1.9" stroke-dasharray="0.01 7.1" stroke-linecap="square"/></svg>
<span id="t122" style="position:absolute;top:1604.68px;font-family:'Liberation Sans', sans-serif;font-size:20px;line-height:20px;white-space:nowrap;color:#000;left:8.00px;transform-origin:0 0;transform:scaleX(1.0607);">30</span>
<svg style="position:absolute;left:45.2px;top:1617.7px" width="841.8" height="3"><line x1="1" y1="1.5" x2="840.8" y2="1.5" stroke="#111" stroke-width="1.9" stroke-dasharray="0.01 7.1" stroke-linecap="square"/></svg>
<span id="t123" style="position:absolute;top:1568.16px;font-family:'Liberation Sans', sans-serif;font-size:20px;line-height:20px;white-space:nowrap;color:#000;left:8.00px;transform-origin:0 0;transform:scaleX(1.0607);">40</span>
<svg style="position:absolute;left:45.2px;top:1581.4px" width="841.8" height="3"><line x1="1" y1="1.5" x2="840.8" y2="1.5" stroke="#111" stroke-width="1.9" stroke-dasharray="0.01 7.1" stroke-linecap="square"/></svg>
<span id="t124" style="position:absolute;top:1531.64px;font-family:'Liberation Sans', sans-serif;font-size:20px;line-height:20px;white-space:nowrap;color:#000;left:8.00px;transform-origin:0 0;transform:scaleX(1.0607);">50</span>
<svg style="position:absolute;left:45.2px;top:1545.1px" width="841.8" height="3"><line x1="1" y1="1.5" x2="840.8" y2="1.5" stroke="#111" stroke-width="1.9" stroke-dasharray="0.01 7.1" stroke-linecap="square"/></svg>
<span id="t125" style="position:absolute;top:1495.12px;font-family:'Liberation Sans', sans-serif;font-size:20px;line-height:20px;white-space:nowrap;color:#000;left:8.00px;transform-origin:0 0;transform:scaleX(1.0607);">60</span>
<svg style="position:absolute;left:45.2px;top:1508.8px" width="841.8" height="3"><line x1="1" y1="1.5" x2="840.8" y2="1.5" stroke="#111" stroke-width="1.9" stroke-dasharray="0.01 7.1" stroke-linecap="square"/></svg>
<span id="t126" style="position:absolute;top:1458.60px;font-family:'Liberation Sans', sans-serif;font-size:20px;line-height:20px;white-space:nowrap;color:#000;left:8.00px;transform-origin:0 0;transform:scaleX(1.0607);">70</span>
<svg style="position:absolute;left:45.2px;top:1472.5px" width="841.8" height="3"><line x1="1" y1="1.5" x2="840.8" y2="1.5" stroke="#111" stroke-width="1.9" stroke-dasharray="0.01 7.1" stroke-linecap="square"/></svg>
<span id="t127" style="position:absolute;top:1422.08px;font-family:'Liberation Sans', sans-serif;font-size:20px;line-height:20px;white-space:nowrap;color:#000;left:8.00px;transform-origin:0 0;transform:scaleX(1.0607);">80</span>
<svg style="position:absolute;left:45.2px;top:1436.2px" width="841.8" height="3"><line x1="1" y1="1.5" x2="840.8" y2="1.5" stroke="#111" stroke-width="1.9" stroke-dasharray="0.01 7.1" stroke-linecap="square"/></svg>
<div style="position:absolute;left:46.5px;top:1726.8px;width:837.5px;height:4.0px;background:#000;"></div>
<div style="position:absolute;left:538.0px;top:1378.0px;width:350.0px;height:114.0px;background:#fff;"></div>
<div style="position:absolute;left:552.3px;top:1387.5px;width:19.3px;height:19.7px;background:#d0d0d0;"></div>
<span id="t128" style="position:absolute;top:1387.77px;font-family:'Liberation Sans', sans-serif;font-size:21.5px;line-height:21.5px;white-space:nowrap;color:#000;left:580.50px;transform-origin:0 0;transform:scaleX(0.9632);">18–29 LAT</span>
<div style="position:absolute;left:552.3px;top:1423.9px;width:19.3px;height:19.7px;background:#66c4f0;"></div>
<span id="t129" style="position:absolute;top:1422.57px;font-family:'Liberation Sans', sans-serif;font-size:21.5px;line-height:21.5px;white-space:nowrap;color:#000;left:580.50px;transform-origin:0 0;">30–39 LAT</span>
<div style="position:absolute;left:552.3px;top:1460.3px;width:19.3px;height:19.7px;background:#0080cc;"></div>
<span id="t130" style="position:absolute;top:1459.57px;font-family:'Liberation Sans', sans-serif;font-size:21.5px;line-height:21.5px;white-space:nowrap;color:#000;left:580.50px;transform-origin:0 0;transform:scaleX(1.0356);">40–49 LAT</span>
<div style="position:absolute;left:732.7px;top:1387.5px;width:19.3px;height:19.7px;background:#e99f9b;"></div>
<span id="t131" style="position:absolute;top:1385.07px;font-family:'Liberation Sans', sans-serif;font-size:21.5px;line-height:21.5px;white-space:nowrap;color:#000;left:760.00px;transform-origin:0 0;transform:scaleX(1.0231);">50–59 LAT</span>
<div style="position:absolute;left:732.7px;top:1423.9px;width:19.3px;height:19.7px;background:#8b1408;"></div>
<span id="t132" style="position:absolute;top:1421.27px;font-family:'Liberation Sans', sans-serif;font-size:21.5px;line-height:21.5px;white-space:nowrap;color:#000;left:760.00px;transform-origin:0 0;transform:scaleX(1.0327);">60–69 LAT</span>
<div style="position:absolute;left:732.7px;top:1460.3px;width:19.3px;height:19.7px;background:#000;"></div>
<span id="t133" style="position:absolute;top:1458.07px;font-family:'Liberation Sans', sans-serif;font-size:21.5px;line-height:21.5px;white-space:nowrap;color:#000;left:760.00px;transform-origin:0 0;transform:scaleX(0.9319);">70+</span>
<div style="position:absolute;left:56.0px;top:1601.0px;width:11.0px;height:127.0px;background:#d0d0d0;"></div>
<div style="position:absolute;left:68.4px;top:1495.8px;width:11.0px;height:232.3px;background:#66c4f0;"></div>
<div style="position:absolute;left:80.8px;top:1575.6px;width:11.0px;height:152.5px;background:#0080cc;"></div>
<div style="position:absolute;left:93.3px;top:1550.2px;width:11.0px;height:177.9px;background:#e99f9b;"></div>
<div style="position:absolute;left:105.7px;top:1448.6px;width:11.0px;height:279.5px;background:#8b1408;"></div>
<div style="position:absolute;left:118.1px;top:1575.6px;width:11.0px;height:152.5px;background:#000;"></div>
<svg style="position:absolute;left:54.7px;top:1737.2px" width="37.8" height="36.0"><rect x="1.35" y="1.35" width="35.10" height="33.30" rx="4.65" fill="#fff" stroke="#000" stroke-width="2.7"/></svg>
<span id="t134" style="position:absolute;top:1745.50px;font-family:'Liberation Sans', sans-serif;font-size:20.5px;line-height:20.5px;white-space:nowrap;color:#000;font-weight:700;-webkit-text-stroke:0.4px #000;left:65.55px;transform-origin:0 0;">1.</span>
<div style="position:absolute;left:149.0px;top:1619.2px;width:11.0px;height:108.9px;background:#d0d0d0;"></div>
<div style="position:absolute;left:161.4px;top:1524.8px;width:11.0px;height:203.3px;background:#66c4f0;"></div>
<div style="position:absolute;left:173.8px;top:1543.0px;width:11.0px;height:185.1px;background:#0080cc;"></div>
<div style="position:absolute;left:186.3px;top:1550.2px;width:11.0px;height:177.9px;background:#e99f9b;"></div>
<div style="position:absolute;left:198.7px;top:1477.6px;width:11.0px;height:250.5px;background:#8b1408;"></div>
<div style="position:absolute;left:211.1px;top:1590.2px;width:11.0px;height:137.9px;background:#000;"></div>
<svg style="position:absolute;left:148.0px;top:1737.2px" width="37.8" height="36.0"><rect x="1.35" y="1.35" width="35.10" height="33.30" rx="4.65" fill="#fff" stroke="#000" stroke-width="2.7"/></svg>
<span id="t135" style="position:absolute;top:1745.50px;font-family:'Liberation Sans', sans-serif;font-size:20.5px;line-height:20.5px;white-space:nowrap;color:#000;font-weight:700;-webkit-text-stroke:0.4px #000;left:158.85px;transform-origin:0 0;">2.</span>
<div style="position:absolute;left:241.8px;top:1651.9px;width:11.0px;height:76.2px;background:#d0d0d0;"></div>
<div style="position:absolute;left:254.2px;top:1550.2px;width:11.0px;height:177.9px;background:#66c4f0;"></div>
<div style="position:absolute;left:266.6px;top:1546.6px;width:11.0px;height:181.5px;background:#0080cc;"></div>
<div style="position:absolute;left:279.1px;top:1582.9px;width:11.0px;height:145.2px;background:#e99f9b;"></div>
<div style="position:absolute;left:291.5px;top:1517.6px;width:11.0px;height:210.5px;background:#8b1408;"></div>
<div style="position:absolute;left:303.9px;top:1611.9px;width:11.0px;height:116.2px;background:#000;"></div>
<svg style="position:absolute;left:241.8px;top:1737.2px" width="37.8" height="36.0"><rect x="1.35" y="1.35" width="35.10" height="33.30" rx="4.65" fill="#fff" stroke="#000" stroke-width="2.7"/></svg>
<span id="t136" style="position:absolute;top:1745.50px;font-family:'Liberation Sans', sans-serif;font-size:20.5px;line-height:20.5px;white-space:nowrap;color:#000;font-weight:700;-webkit-text-stroke:0.4px #000;left:252.65px;transform-origin:0 0;">3.</span>
<div style="position:absolute;left:335.3px;top:1630.1px;width:11.0px;height:98.0px;background:#d0d0d0;"></div>
<div style="position:absolute;left:347.7px;top:1535.7px;width:11.0px;height:192.4px;background:#66c4f0;"></div>
<div style="position:absolute;left:360.1px;top:1532.1px;width:11.0px;height:196.0px;background:#0080cc;"></div>
<div style="position:absolute;left:372.6px;top:1651.9px;width:11.0px;height:76.2px;background:#e99f9b;"></div>
<div style="position:absolute;left:385.0px;top:1510.3px;width:11.0px;height:217.8px;background:#8b1408;"></div>
<div style="position:absolute;left:397.4px;top:1688.2px;width:11.0px;height:39.9px;background:#000;"></div>
<svg style="position:absolute;left:335.3px;top:1737.2px" width="37.8" height="36.0"><rect x="1.35" y="1.35" width="35.10" height="33.30" rx="4.65" fill="#fff" stroke="#000" stroke-width="2.7"/></svg>
<span id="t137" style="position:absolute;top:1745.50px;font-family:'Liberation Sans', sans-serif;font-size:20.5px;line-height:20.5px;white-space:nowrap;color:#000;font-weight:700;-webkit-text-stroke:0.4px #000;left:346.15px;transform-origin:0 0;">4.</span>
<div style="position:absolute;left:428.2px;top:1695.4px;width:11.0px;height:32.7px;background:#d0d0d0;"></div>
<div style="position:absolute;left:440.6px;top:1572.0px;width:11.0px;height:156.1px;background:#66c4f0;"></div>
<div style="position:absolute;left:453.0px;top:1651.9px;width:11.0px;height:76.2px;background:#0080cc;"></div>
<div style="position:absolute;left:465.5px;top:1641.0px;width:11.0px;height:87.1px;background:#e99f9b;"></div>
<div style="position:absolute;left:477.9px;top:1670.0px;width:11.0px;height:58.1px;background:#8b1408;"></div>
<div style="position:absolute;left:490.3px;top:1677.3px;width:11.0px;height:50.8px;background:#000;"></div>
<svg style="position:absolute;left:429.5px;top:1737.2px" width="37.8" height="36.0"><rect x="1.35" y="1.35" width="35.10" height="33.30" rx="4.65" fill="#fff" stroke="#000" stroke-width="2.7"/></svg>
<span id="t138" style="position:absolute;top:1745.50px;font-family:'Liberation Sans', sans-serif;font-size:20.5px;line-height:20.5px;white-space:nowrap;color:#000;font-weight:700;-webkit-text-stroke:0.4px #000;left:440.35px;transform-origin:0 0;">5.</span>
<div style="position:absolute;left:521.7px;top:1608.3px;width:11.0px;height:119.8px;background:#d0d0d0;"></div>
<div style="position:absolute;left:534.1px;top:1648.2px;width:11.0px;height:79.9px;background:#66c4f0;"></div>
<div style="position:absolute;left:546.5px;top:1662.8px;width:11.0px;height:65.3px;background:#0080cc;"></div>
<div style="position:absolute;left:559.0px;top:1709.9px;width:11.0px;height:18.1px;background:#e99f9b;"></div>
<div style="position:absolute;left:571.4px;top:1670.0px;width:11.0px;height:58.1px;background:#8b1408;"></div>
<div style="position:absolute;left:583.8px;top:1651.9px;width:11.0px;height:76.2px;background:#000;"></div>
<svg style="position:absolute;left:521.0px;top:1737.2px" width="37.8" height="36.0"><rect x="1.35" y="1.35" width="35.10" height="33.30" rx="4.65" fill="#fff" stroke="#000" stroke-width="2.7"/></svg>
<span id="t139" style="position:absolute;top:1745.50px;font-family:'Liberation Sans', sans-serif;font-size:20.5px;line-height:20.5px;white-space:nowrap;color:#000;font-weight:700;-webkit-text-stroke:0.4px #000;left:531.85px;transform-origin:0 0;">6.</span>
<div style="position:absolute;left:614.6px;top:1727.0px;width:11.0px;height:1.1px;background:#d0d0d0;"></div>
<div style="position:absolute;left:627.0px;top:1615.6px;width:11.0px;height:112.5px;background:#66c4f0;"></div>
<div style="position:absolute;left:639.4px;top:1724.5px;width:11.0px;height:3.6px;background:#0080cc;"></div>
<div style="position:absolute;left:651.9px;top:1720.8px;width:11.0px;height:7.3px;background:#e99f9b;"></div>
<div style="position:absolute;left:664.3px;top:1713.6px;width:11.0px;height:14.5px;background:#8b1408;"></div>
<div style="position:absolute;left:676.7px;top:1709.9px;width:11.0px;height:18.1px;background:#000;"></div>
<svg style="position:absolute;left:625.8px;top:1737.2px" width="37.8" height="36.0"><rect x="1.35" y="1.35" width="35.10" height="33.30" rx="4.65" fill="#fff" stroke="#000" stroke-width="2.7"/></svg>
<span id="t140" style="position:absolute;top:1745.50px;font-family:'Liberation Sans', sans-serif;font-size:20.5px;line-height:20.5px;white-space:nowrap;color:#000;font-weight:700;-webkit-text-stroke:0.4px #000;left:636.65px;transform-origin:0 0;">7.</span>
<div style="position:absolute;left:708.0px;top:1720.8px;width:11.0px;height:7.3px;background:#d0d0d0;"></div>
<div style="position:absolute;left:720.4px;top:1615.6px;width:11.0px;height:112.5px;background:#66c4f0;"></div>
<div style="position:absolute;left:732.8px;top:1724.5px;width:11.0px;height:3.6px;background:#0080cc;"></div>
<div style="position:absolute;left:745.3px;top:1717.2px;width:11.0px;height:10.9px;background:#e99f9b;"></div>
<div style="position:absolute;left:757.7px;top:1709.9px;width:11.0px;height:18.1px;background:#8b1408;"></div>
<div style="position:absolute;left:770.1px;top:1724.5px;width:11.0px;height:3.6px;background:#000;"></div>
<svg style="position:absolute;left:707.5px;top:1737.2px" width="37.8" height="36.0"><rect x="1.35" y="1.35" width="35.10" height="33.30" rx="4.65" fill="#fff" stroke="#000" stroke-width="2.7"/></svg>
<span id="t141" style="position:absolute;top:1745.50px;font-family:'Liberation Sans', sans-serif;font-size:20.5px;line-height:20.5px;white-space:nowrap;color:#000;font-weight:700;-webkit-text-stroke:0.4px #000;left:718.35px;transform-origin:0 0;">8.</span>
<div style="position:absolute;left:800.5px;top:1727.0px;width:11.0px;height:1.1px;background:#d0d0d0;"></div>
<div style="position:absolute;left:812.9px;top:1702.7px;width:11.0px;height:25.4px;background:#66c4f0;"></div>
<div style="position:absolute;left:825.3px;top:1720.8px;width:11.0px;height:7.3px;background:#0080cc;"></div>
<div style="position:absolute;left:837.8px;top:1724.5px;width:11.0px;height:3.6px;background:#e99f9b;"></div>
<div style="position:absolute;left:850.2px;top:1702.7px;width:11.0px;height:25.4px;background:#8b1408;"></div>
<div style="position:absolute;left:862.6px;top:1727.0px;width:11.0px;height:1.1px;background:#000;"></div>
<svg style="position:absolute;left:799.7px;top:1737.2px" width="37.8" height="36.0"><rect x="1.35" y="1.35" width="35.10" height="33.30" rx="4.65" fill="#fff" stroke="#000" stroke-width="2.7"/></svg>
<span id="t142" style="position:absolute;top:1745.50px;font-family:'Liberation Sans', sans-serif;font-size:20.5px;line-height:20.5px;white-space:nowrap;color:#000;font-weight:700;-webkit-text-stroke:0.4px #000;left:810.55px;transform-origin:0 0;">9.</span>
<div style="position:absolute;left:8.0px;top:1842.0px;width:878.0px;height:3.0px;background:#149bde;"></div>
<svg style="position:absolute;left:8.8px;top:1864.1px" width="40.1" height="40.1" viewBox="0 0 42 42"><path d="M0.1 8.8 L9.3 0.6 L26.4 16.9 L26.4 4 L39.7 4.6 L39.7 39.9 L3.6 39.9 L3.6 26.9 L16.7 26.9 Z" fill="#149bde"/></svg>
<span id="t143" style="position:absolute;top:1866.78px;font-family:'Liberation Sans', sans-serif;font-size:29.5px;line-height:29.5px;white-space:nowrap;color:#149bde;font-weight:700;-webkit-text-stroke:0.45px #149bde;left:58.30px;transform-origin:0 0;transform:scaleX(1.0321);">CZY POZYCJA MIĘDZYNARODOWA POLSKI</span>
<span id="t144" style="position:absolute;top:1900.98px;font-family:'Liberation Sans', sans-serif;font-size:29.5px;line-height:29.5px;white-space:nowrap;color:#149bde;font-weight:700;-webkit-text-stroke:0.45px #149bde;left:58.80px;transform-origin:0 0;transform:scaleX(1.0382);">UMOCNIŁA SIĘ OD CZASU WYBUCHU WOJNY</span>
<span id="t145" style="position:absolute;top:1933.98px;font-family:'Liberation Sans', sans-serif;font-size:29.5px;line-height:29.5px;white-space:nowrap;color:#149bde;font-weight:700;-webkit-text-stroke:0.45px #149bde;left:58.80px;transform-origin:0 0;transform:scaleX(1.0091);">ROSYJSKO-UKRAIŃSKIEJ W LUTYM 2022 R.?</span>
<div style="position:absolute;left:12.0px;top:2008.5px;width:26.5px;height:25.5px;background:#0a56a5;"></div>
<span id="t146" style="position:absolute;top:2007.39px;font-family:'Liberation Sans', sans-serif;font-size:21px;line-height:21px;white-space:nowrap;color:#000;left:49.40px;transform-origin:0 0;transform:scaleX(1.0145);">ZDECYDOWANIE TAK</span>
<div style="position:absolute;left:12.0px;top:2045.5px;width:26.5px;height:25.5px;background:#aedcf6;"></div>
<span id="t147" style="position:absolute;top:2043.39px;font-family:'Liberation Sans', sans-serif;font-size:21px;line-height:21px;white-space:nowrap;color:#000;left:49.40px;transform-origin:0 0;transform:scaleX(0.9492);">RACZEJ TAK</span>
<div style="position:absolute;left:12.0px;top:2082.5px;width:26.5px;height:25.5px;background:#f5b0a5;"></div>
<span id="t148" style="position:absolute;top:2082.79px;font-family:'Liberation Sans', sans-serif;font-size:21px;line-height:21px;white-space:nowrap;color:#000;left:49.40px;transform-origin:0 0;transform:scaleX(0.9248);">RACZEJ NIE</span>
<div style="position:absolute;left:12.0px;top:2119.5px;width:26.5px;height:25.5px;background:#ba0e0e;"></div>
<span id="t149" style="position:absolute;top:2119.99px;font-family:'Liberation Sans', sans-serif;font-size:21px;line-height:21px;white-space:nowrap;color:#000;left:49.40px;transform-origin:0 0;">ZDECYDOWANIE NIE</span>
<div style="position:absolute;left:12.0px;top:2156.5px;width:26.5px;height:25.5px;background:#d4d4d4;"></div>
<span id="t150" style="position:absolute;top:2158.49px;font-family:'Liberation Sans', sans-serif;font-size:21px;line-height:21px;white-space:nowrap;color:#000;left:49.40px;transform-origin:0 0;transform:scaleX(1.0084);">TRUDNO POWIEDZIEĆ</span>
<div style="position:absolute;left:452.6px;top:2007.5px;width:12px;height:12px;border-radius:50%;background:#000"></div>
<span id="t151" style="position:absolute;top:1992.38px;font-family:'Liberation Serif', serif;font-size:32px;line-height:32px;white-space:nowrap;color:#000;font-style:italic;-webkit-text-stroke:0.22px #000;left:468.40px;transform-origin:0 0;transform:scaleX(1.0240);">odpowiedzi ogółem (proc.)</span>
<svg style="position:absolute;left:501.3px;top:2040.8px" width="184.4" height="184.4" viewBox="-92.2 -92.2 184.4 184.4"><path d="M0 0 L0.00 -92.20 A92.2 92.2 0 0 1 92.18 1.74 Z" fill="#f5b0a5"/><path d="M0 0 L92.18 1.74 A92.2 92.2 0 0 1 84.39 37.15 Z" fill="#ba0e0e"/><path d="M0 0 L84.39 37.15 A92.2 92.2 0 0 1 65.60 64.78 Z" fill="#d4d4d4"/><path d="M0 0 L65.60 64.78 A92.2 92.2 0 0 1 -77.54 49.89 Z" fill="#0a56a5"/><path d="M0 0 L-77.54 49.89 A92.2 92.2 0 0 1 -0.00 -92.20 Z" fill="#aedcf6"/></svg>
<span id="t152" style="position:absolute;top:2085.92px;font-family:'Liberation Sans', sans-serif;font-size:22.5px;line-height:22.5px;white-space:nowrap;color:#000;font-weight:700;-webkit-text-stroke:0.4px #000;left:616.80px;transform-origin:0 0;">25,3</span>
<span id="t153" style="position:absolute;top:2099.62px;font-family:'Liberation Sans', sans-serif;font-size:22.5px;line-height:22.5px;white-space:nowrap;color:#000;font-weight:700;-webkit-text-stroke:0.4px #000;left:520.00px;transform-origin:0 0;">34,<span style="margin:0 -0.05em 0 -0.09em">1</span></span>
<span id="t154" style="position:absolute;top:2177.82px;font-family:'Liberation Sans', sans-serif;font-size:22.5px;line-height:22.5px;white-space:nowrap;color:#fff;font-weight:700;-webkit-text-stroke:0.4px #fff;left:565.20px;transform-origin:0 0;">28,5</span>
<span id="t155" style="position:absolute;top:2138.92px;font-family:'Liberation Sans', sans-serif;font-size:22.5px;line-height:22.5px;white-space:nowrap;color:#000;font-weight:700;-webkit-text-stroke:0.4px #000;left:711.60px;transform-origin:0 0;">6,3</span>
<span id="t156" style="position:absolute;top:2171.92px;font-family:'Liberation Sans', sans-serif;font-size:22.5px;line-height:22.5px;white-space:nowrap;color:#000;font-weight:700;-webkit-text-stroke:0.4px #000;left:711.60px;transform-origin:0 0;">5,8</span>
<div style="position:absolute;left:685.7px;top:2150.8px;width:19.2px;height:1.4px;background:#000;"></div>
<div style="position:absolute;left:672.0px;top:2184.7px;width:33.0px;height:1.4px;background:#000;"></div>
<svg style="position:absolute;left:9.7px;top:2250.5px" width="855.3" height="3"><line x1="1" y1="1.5" x2="854.3" y2="1.5" stroke="#111" stroke-width="1.9" stroke-dasharray="0.01 7.1" stroke-linecap="square"/></svg>
<div style="position:absolute;left:6.7px;top:2284.8px;width:12px;height:12px;border-radius:50%;background:#000"></div>
<span id="t157" style="position:absolute;top:2272.58px;font-family:'Liberation Serif', serif;font-size:32px;line-height:32px;white-space:nowrap;color:#000;font-style:italic;-webkit-text-stroke:0.22px #000;left:24.40px;transform-origin:0 0;transform:scaleX(1.0313);">według preferencji wyborczych (proc.)</span>
<span id="t158" style="position:absolute;top:2329.04px;font-family:'Liberation Sans', sans-serif;font-size:20px;line-height:20px;white-space:nowrap;color:#000;left:38.20px;transform-origin:0 0;transform:scaleX(1.0058);">OBÓZ</span>
<span id="t159" style="position:absolute;top:2350.04px;font-family:'Liberation Sans', sans-serif;font-size:20px;line-height:20px;white-space:nowrap;color:#000;left:38.20px;transform-origin:0 0;transform:scaleX(1.0390);">RZĄDZĄCY</span>
<span id="t160" style="position:absolute;top:2402.84px;font-family:'Liberation Sans', sans-serif;font-size:20px;line-height:20px;white-space:nowrap;color:#000;left:36.20px;transform-origin:0 0;transform:scaleX(0.9963);">OPOZYCJA</span>
<span id="t161" style="position:absolute;top:2461.84px;font-family:'Liberation Sans', sans-serif;font-size:20px;line-height:20px;white-space:nowrap;color:#000;left:38.20px;transform-origin:0 0;transform:scaleX(1.0750);">NIEZDE-</span>
<span id="t162" style="position:absolute;top:2483.04px;font-family:'Liberation Sans', sans-serif;font-size:20px;line-height:20px;white-space:nowrap;color:#000;left:38.20px;transform-origin:0 0;transform:scaleX(1.0854);">CYDOWANI</span>
<div style="position:absolute;left:226.0px;top:2339.0px;width:353.1px;height:24.3px;background:#0a56a5;"></div>
<span id="t163" style="position:absolute;top:2341.44px;font-family:'Liberation Sans', sans-serif;font-size:22px;line-height:22px;white-space:nowrap;color:#fff;font-weight:700;-webkit-text-stroke:0.4px #fff;left:233.50px;transform-origin:0 0;">59</span>
<div style="position:absolute;left:578.8px;top:2339.0px;width:167.7px;height:24.3px;background:#aedcf6;"></div>
<span id="t164" style="position:absolute;top:2341.44px;font-family:'Liberation Sans', sans-serif;font-size:22px;line-height:22px;white-space:nowrap;color:#000;font-weight:700;-webkit-text-stroke:0.4px #000;left:588.82px;transform-origin:0 0;">28</span>
<div style="position:absolute;left:746.3px;top:2339.0px;width:6.3px;height:24.3px;background:#f5b0a5;"></div>
<div style="position:absolute;left:752.2px;top:2339.0px;width:42.2px;height:24.3px;background:#ba0e0e;"></div>
<span id="t165" style="position:absolute;top:2341.44px;font-family:'Liberation Sans', sans-serif;font-size:22px;line-height:22px;white-space:nowrap;color:#fff;font-weight:700;-webkit-text-stroke:0.4px #fff;left:762.24px;transform-origin:0 0;">7</span>
<div style="position:absolute;left:794.1px;top:2339.0px;width:30.2px;height:24.3px;background:#d4d4d4;"></div>
<span id="t166" style="position:absolute;top:2286.64px;font-family:'Liberation Sans', sans-serif;font-size:22px;line-height:22px;white-space:nowrap;color:#000;font-weight:700;-webkit-text-stroke:0.4px #000;left:745.82px;transform-origin:0 0;transform:scaleX(0.8707);"><span style="margin:0 -0.05em 0 -0.09em">1</span></span>
<div style="position:absolute;left:749.9px;top:2313.0px;width:1.3px;height:26.0px;background:#000;"></div>
<span id="t167" style="position:absolute;top:2339.34px;font-family:'Liberation Sans', sans-serif;font-size:22px;line-height:22px;white-space:nowrap;color:#000;font-weight:700;-webkit-text-stroke:0.4px #000;left:856.30px;transform-origin:0 0;">5</span>
<div style="position:absolute;left:825.0px;top:2352.3px;width:26.0px;height:1.3px;background:#000;"></div>
<div style="position:absolute;left:226.0px;top:2405.0px;width:102.0px;height:23.5px;background:#0a56a5;"></div>
<span id="t168" style="position:absolute;top:2406.64px;font-family:'Liberation Sans', sans-serif;font-size:22px;line-height:22px;white-space:nowrap;color:#fff;font-weight:700;-webkit-text-stroke:0.4px #fff;left:234.82px;transform-origin:0 0;"><span style="margin:0 -0.05em 0 -0.09em">1</span>7</span>
<div style="position:absolute;left:327.7px;top:2405.0px;width:227.5px;height:23.5px;background:#aedcf6;"></div>
<span id="t169" style="position:absolute;top:2406.64px;font-family:'Liberation Sans', sans-serif;font-size:22px;line-height:22px;white-space:nowrap;color:#000;font-weight:700;-webkit-text-stroke:0.4px #000;left:337.66px;transform-origin:0 0;">38</span>
<div style="position:absolute;left:554.9px;top:2405.0px;width:173.7px;height:23.5px;background:#f5b0a5;"></div>
<span id="t170" style="position:absolute;top:2406.64px;font-family:'Liberation Sans', sans-serif;font-size:22px;line-height:22px;white-space:nowrap;color:#000;font-weight:700;-webkit-text-stroke:0.4px #000;left:568.90px;transform-origin:0 0;">29</span>
<div style="position:absolute;left:728.3px;top:2405.0px;width:54.1px;height:23.5px;background:#ba0e0e;"></div>
<span id="t171" style="position:absolute;top:2406.64px;font-family:'Liberation Sans', sans-serif;font-size:22px;line-height:22px;white-space:nowrap;color:#fff;font-weight:700;-webkit-text-stroke:0.4px #fff;left:738.32px;transform-origin:0 0;">9</span>
<div style="position:absolute;left:782.1px;top:2405.0px;width:36.2px;height:23.5px;background:#d4d4d4;"></div>
<span id="t172" style="position:absolute;top:2406.64px;font-family:'Liberation Sans', sans-serif;font-size:22px;line-height:22px;white-space:nowrap;color:#000;font-weight:700;-webkit-text-stroke:0.4px #000;left:789.96px;transform-origin:0 0;">6</span>
<div style="position:absolute;left:226.0px;top:2470.5px;width:143.8px;height:23.7px;background:#0a56a5;"></div>
<span id="t173" style="position:absolute;top:2472.34px;font-family:'Liberation Sans', sans-serif;font-size:22px;line-height:22px;white-space:nowrap;color:#fff;font-weight:700;-webkit-text-stroke:0.4px #fff;left:233.50px;transform-origin:0 0;">24</span>
<div style="position:absolute;left:369.5px;top:2470.5px;width:251.5px;height:23.7px;background:#aedcf6;"></div>
<span id="t174" style="position:absolute;top:2472.34px;font-family:'Liberation Sans', sans-serif;font-size:22px;line-height:22px;white-space:nowrap;color:#000;font-weight:700;-webkit-text-stroke:0.4px #000;left:379.52px;transform-origin:0 0;">42</span>
<div style="position:absolute;left:620.7px;top:2470.5px;width:107.9px;height:23.7px;background:#f5b0a5;"></div>
<span id="t175" style="position:absolute;top:2472.34px;font-family:'Liberation Sans', sans-serif;font-size:22px;line-height:22px;white-space:nowrap;color:#000;font-weight:700;-webkit-text-stroke:0.4px #000;left:632.00px;transform-origin:0 0;"><span style="margin:0 -0.05em 0 -0.09em">1</span>8</span>
<div style="position:absolute;left:728.3px;top:2470.5px;width:24.2px;height:23.7px;background:#ba0e0e;"></div>
<div style="position:absolute;left:752.2px;top:2470.5px;width:72.1px;height:23.7px;background:#d4d4d4;"></div>
<span id="t176" style="position:absolute;top:2472.34px;font-family:'Liberation Sans', sans-serif;font-size:22px;line-height:22px;white-space:nowrap;color:#000;font-weight:700;-webkit-text-stroke:0.4px #000;left:780.40px;transform-origin:0 0;"><span style="margin:0 -0.05em 0 -0.09em">1</span>2</span>
<span id="t177" style="position:absolute;top:2446.54px;font-family:'Liberation Sans', sans-serif;font-size:22px;line-height:22px;white-space:nowrap;color:#000;font-weight:700;-webkit-text-stroke:0.4px #000;left:768.80px;transform-origin:0 0;">4</span>
<div style="position:absolute;left:739.8px;top:2454.2px;width:1.3px;height:16.8px;background:#000;"></div>
<div style="position:absolute;left:739.6px;top:2453.5px;width:22.6px;height:1.3px;background:#000;"></div>
<svg style="position:absolute;left:10.2px;top:2543.0px" width="854.8" height="3"><line x1="1" y1="1.5" x2="853.8" y2="1.5" stroke="#111" stroke-width="1.6" stroke-dasharray="0.01 4.7" stroke-linecap="square"/></svg>
<div style="position:absolute;left:7.4px;top:2570.7px;width:12px;height:12px;border-radius:50%;background:#000"></div>
<span id="t178" style="position:absolute;top:2558.18px;font-family:'Liberation Serif', serif;font-size:32px;line-height:32px;white-space:nowrap;color:#000;font-style:italic;-webkit-text-stroke:0.22px #000;left:29.60px;transform-origin:0 0;transform:scaleX(1.0374);">odpowiedzi według wieku (proc.)</span>
<span id="t179" style="position:absolute;top:2613.77px;font-family:'Liberation Sans', sans-serif;font-size:21.5px;line-height:21.5px;white-space:nowrap;color:#000;left:34.30px;transform-origin:0 0;transform:scaleX(0.9459);">18–29 LAT</span>
<div style="position:absolute;left:222.0px;top:2612.6px;width:78.6px;height:24.0px;background:#0a56a5;"></div>
<span id="t180" style="position:absolute;top:2616.11px;font-family:'Liberation Sans', sans-serif;font-size:17.8px;line-height:17.8px;white-space:nowrap;color:#fff;font-weight:700;-webkit-text-stroke:0.4px #fff;left:230.57px;transform-origin:0 0;"><span style="margin:0 -0.05em 0 -0.09em">1</span>3</span>
<div style="position:absolute;left:300.3px;top:2612.6px;width:241.1px;height:24.0px;background:#aedcf6;"></div>
<span id="t181" style="position:absolute;top:2616.11px;font-family:'Liberation Sans', sans-serif;font-size:17.8px;line-height:17.8px;white-space:nowrap;color:#000;font-weight:700;-webkit-text-stroke:0.4px #000;left:307.76px;transform-origin:0 0;">40</span>
<div style="position:absolute;left:541.1px;top:2612.6px;width:217.0px;height:24.0px;background:#f5b0a5;"></div>
<span id="t182" style="position:absolute;top:2616.11px;font-family:'Liberation Sans', sans-serif;font-size:17.8px;line-height:17.8px;white-space:nowrap;color:#000;font-weight:700;-webkit-text-stroke:0.4px #000;left:548.56px;transform-origin:0 0;">36</span>
<div style="position:absolute;left:757.8px;top:2612.6px;width:66.5px;height:24.0px;background:#ba0e0e;"></div>
<span id="t183" style="position:absolute;top:2616.11px;font-family:'Liberation Sans', sans-serif;font-size:17.8px;line-height:17.8px;white-space:nowrap;color:#fff;font-weight:700;-webkit-text-stroke:0.4px #fff;left:766.35px;transform-origin:0 0;transform:scaleX(0.8624);"><span style="margin:0 -0.05em 0 -0.09em">1</span><span style="margin:0 -0.05em 0 -0.09em">1</span></span>
<span id="t184" style="position:absolute;top:2668.57px;font-family:'Liberation Sans', sans-serif;font-size:21.5px;line-height:21.5px;white-space:nowrap;color:#000;left:34.30px;transform-origin:0 0;transform:scaleX(0.9941);">30–39 LAT</span>
<div style="position:absolute;left:222.0px;top:2664.8px;width:126.7px;height:24.0px;background:#0a56a5;"></div>
<span id="t185" style="position:absolute;top:2668.26px;font-family:'Liberation Sans', sans-serif;font-size:17.8px;line-height:17.8px;white-space:nowrap;color:#fff;font-weight:700;-webkit-text-stroke:0.4px #fff;left:229.50px;transform-origin:0 0;">2<span style="margin:0 -0.05em 0 -0.09em">1</span></span>
<div style="position:absolute;left:348.4px;top:2664.8px;width:180.9px;height:24.0px;background:#aedcf6;"></div>
<span id="t186" style="position:absolute;top:2668.26px;font-family:'Liberation Sans', sans-serif;font-size:17.8px;line-height:17.8px;white-space:nowrap;color:#000;font-weight:700;-webkit-text-stroke:0.4px #000;left:355.92px;transform-origin:0 0;">30</span>
<div style="position:absolute;left:529.0px;top:2664.8px;width:247.1px;height:24.0px;background:#f5b0a5;"></div>
<span id="t187" style="position:absolute;top:2668.26px;font-family:'Liberation Sans', sans-serif;font-size:17.8px;line-height:17.8px;white-space:nowrap;color:#000;font-weight:700;-webkit-text-stroke:0.4px #000;left:536.52px;transform-origin:0 0;">4<span style="margin:0 -0.05em 0 -0.09em">1</span></span>
<div style="position:absolute;left:775.8px;top:2664.8px;width:48.5px;height:24.0px;background:#ba0e0e;"></div>
<span id="t188" style="position:absolute;top:2668.26px;font-family:'Liberation Sans', sans-serif;font-size:17.8px;line-height:17.8px;white-space:nowrap;color:#fff;font-weight:700;-webkit-text-stroke:0.4px #fff;left:783.34px;transform-origin:0 0;">8</span>
<span id="t189" style="position:absolute;top:2721.07px;font-family:'Liberation Sans', sans-serif;font-size:21.5px;line-height:21.5px;white-space:nowrap;color:#000;left:34.30px;transform-origin:0 0;transform:scaleX(1.0327);">40–49 LAT</span>
<div style="position:absolute;left:222.0px;top:2716.9px;width:259.2px;height:24.0px;background:#0a56a5;"></div>
<span id="t190" style="position:absolute;top:2720.41px;font-family:'Liberation Sans', sans-serif;font-size:17.8px;line-height:17.8px;white-space:nowrap;color:#fff;font-weight:700;-webkit-text-stroke:0.4px #fff;left:229.50px;transform-origin:0 0;">43</span>
<div style="position:absolute;left:480.9px;top:2716.9px;width:253.1px;height:24.0px;background:#aedcf6;"></div>
<span id="t191" style="position:absolute;top:2720.41px;font-family:'Liberation Sans', sans-serif;font-size:17.8px;line-height:17.8px;white-space:nowrap;color:#000;font-weight:700;-webkit-text-stroke:0.4px #000;left:488.36px;transform-origin:0 0;">42</span>
<div style="position:absolute;left:733.7px;top:2716.9px;width:60.5px;height:24.0px;background:#f5b0a5;"></div>
<span id="t192" style="position:absolute;top:2720.41px;font-family:'Liberation Sans', sans-serif;font-size:17.8px;line-height:17.8px;white-space:nowrap;color:#000;font-weight:700;-webkit-text-stroke:0.4px #000;left:742.27px;transform-origin:0 0;"><span style="margin:0 -0.05em 0 -0.09em">1</span>0</span>
<div style="position:absolute;left:793.9px;top:2716.9px;width:18.4px;height:24.0px;background:#ba0e0e;"></div>
<div style="position:absolute;left:812.0px;top:2716.9px;width:12.3px;height:24.0px;background:#d4d4d4;"></div>
<span id="t193" style="position:absolute;top:2773.17px;font-family:'Liberation Sans', sans-serif;font-size:21.5px;line-height:21.5px;white-space:nowrap;color:#000;left:34.30px;transform-origin:0 0;transform:scaleX(0.9941);">50–59 LAT</span>
<div style="position:absolute;left:222.0px;top:2769.0px;width:199.0px;height:24.0px;background:#0a56a5;"></div>
<span id="t194" style="position:absolute;top:2772.56px;font-family:'Liberation Sans', sans-serif;font-size:17.8px;line-height:17.8px;white-space:nowrap;color:#fff;font-weight:700;-webkit-text-stroke:0.4px #fff;left:229.50px;transform-origin:0 0;">33</span>
<div style="position:absolute;left:420.7px;top:2769.0px;width:186.9px;height:24.0px;background:#aedcf6;"></div>
<span id="t195" style="position:absolute;top:2772.56px;font-family:'Liberation Sans', sans-serif;font-size:17.8px;line-height:17.8px;white-space:nowrap;color:#000;font-weight:700;-webkit-text-stroke:0.4px #000;left:428.16px;transform-origin:0 0;">3<span style="margin:0 -0.05em 0 -0.09em">1</span></span>
<div style="position:absolute;left:607.3px;top:2769.0px;width:126.7px;height:24.0px;background:#f5b0a5;"></div>
<span id="t196" style="position:absolute;top:2772.56px;font-family:'Liberation Sans', sans-serif;font-size:17.8px;line-height:17.8px;white-space:nowrap;color:#000;font-weight:700;-webkit-text-stroke:0.4px #000;left:614.78px;transform-origin:0 0;">2<span style="margin:0 -0.05em 0 -0.09em">1</span></span>
<div style="position:absolute;left:733.7px;top:2769.0px;width:18.4px;height:24.0px;background:#ba0e0e;"></div>
<div style="position:absolute;left:751.8px;top:2769.0px;width:72.5px;height:24.0px;background:#d4d4d4;"></div>
<span id="t197" style="position:absolute;top:2824.37px;font-family:'Liberation Sans', sans-serif;font-size:21.5px;line-height:21.5px;white-space:nowrap;color:#000;left:34.30px;transform-origin:0 0;transform:scaleX(1.0327);">60–69 LAT</span>
<div style="position:absolute;left:222.0px;top:2821.2px;width:295.3px;height:24.0px;background:#0a56a5;"></div>
<span id="t198" style="position:absolute;top:2824.71px;font-family:'Liberation Sans', sans-serif;font-size:17.8px;line-height:17.8px;white-space:nowrap;color:#fff;font-weight:700;-webkit-text-stroke:0.4px #fff;left:229.50px;transform-origin:0 0;">49</span>
<div style="position:absolute;left:517.0px;top:2821.2px;width:168.9px;height:24.0px;background:#aedcf6;"></div>
<span id="t199" style="position:absolute;top:2824.71px;font-family:'Liberation Sans', sans-serif;font-size:17.8px;line-height:17.8px;white-space:nowrap;color:#000;font-weight:700;-webkit-text-stroke:0.4px #000;left:524.48px;transform-origin:0 0;">28</span>
<div style="position:absolute;left:685.5px;top:2821.2px;width:108.7px;height:24.0px;background:#f5b0a5;"></div>
<span id="t200" style="position:absolute;top:2824.71px;font-family:'Liberation Sans', sans-serif;font-size:17.8px;line-height:17.8px;white-space:nowrap;color:#000;font-weight:700;-webkit-text-stroke:0.4px #000;left:694.11px;transform-origin:0 0;"><span style="margin:0 -0.05em 0 -0.09em">1</span>8</span>
<div style="position:absolute;left:793.9px;top:2821.2px;width:12.3px;height:24.0px;background:#ba0e0e;"></div>
<div style="position:absolute;left:805.9px;top:2821.2px;width:18.4px;height:24.0px;background:#d4d4d4;"></div>
<span id="t201" style="position:absolute;top:2875.57px;font-family:'Liberation Sans', sans-serif;font-size:21.5px;line-height:21.5px;white-space:nowrap;color:#000;left:34.30px;transform-origin:0 0;transform:scaleX(0.9758);">70+</span>
<div style="position:absolute;left:222.0px;top:2873.3px;width:54.5px;height:24.0px;background:#0a56a5;"></div>
<span id="t202" style="position:absolute;top:2876.86px;font-family:'Liberation Sans', sans-serif;font-size:17.8px;line-height:17.8px;white-space:nowrap;color:#fff;font-weight:700;-webkit-text-stroke:0.4px #fff;left:229.50px;transform-origin:0 0;">9</span>
<div style="position:absolute;left:276.2px;top:2873.3px;width:217.0px;height:24.0px;background:#aedcf6;"></div>
<span id="t203" style="position:absolute;top:2876.86px;font-family:'Liberation Sans', sans-serif;font-size:17.8px;line-height:17.8px;white-space:nowrap;color:#000;font-weight:700;-webkit-text-stroke:0.4px #000;left:283.68px;transform-origin:0 0;">36</span>
<div style="position:absolute;left:492.9px;top:2873.3px;width:168.9px;height:24.0px;background:#f5b0a5;"></div>
<span id="t204" style="position:absolute;top:2876.86px;font-family:'Liberation Sans', sans-serif;font-size:17.8px;line-height:17.8px;white-space:nowrap;color:#000;font-weight:700;-webkit-text-stroke:0.4px #000;left:500.40px;transform-origin:0 0;">28</span>
<div style="position:absolute;left:661.5px;top:2873.3px;width:72.5px;height:24.0px;background:#ba0e0e;"></div>
<span id="t205" style="position:absolute;top:2876.86px;font-family:'Liberation Sans', sans-serif;font-size:17.8px;line-height:17.8px;white-space:nowrap;color:#fff;font-weight:700;-webkit-text-stroke:0.4px #fff;left:670.03px;transform-origin:0 0;"><span style="margin:0 -0.05em 0 -0.09em">1</span>2</span>
<div style="position:absolute;left:733.7px;top:2873.3px;width:90.6px;height:24.0px;background:#d4d4d4;"></div>
<span id="t206" style="position:absolute;top:2772.56px;font-family:'Liberation Sans', sans-serif;font-size:17.8px;line-height:17.8px;white-space:nowrap;color:#000;font-weight:700;-webkit-text-stroke:0.4px #000;left:796.69px;transform-origin:0 0;"><span style="margin:0 -0.05em 0 -0.09em">1</span>2</span>
<span id="t207" style="position:absolute;top:2876.86px;font-family:'Liberation Sans', sans-serif;font-size:17.8px;line-height:17.8px;white-space:nowrap;color:#000;font-weight:700;-webkit-text-stroke:0.4px #000;left:797.19px;transform-origin:0 0;"><span style="margin:0 -0.05em 0 -0.09em">1</span>5</span>
<span id="t208" style="position:absolute;top:2696.51px;font-family:'Liberation Sans', sans-serif;font-size:17.8px;line-height:17.8px;white-space:nowrap;color:#000;font-weight:700;-webkit-text-stroke:0.4px #000;left:839.60px;transform-origin:0 0;">3</span>
<div style="position:absolute;left:801.0px;top:2705.1px;width:1.4px;height:12.3px;background:#000;"></div>
<div style="position:absolute;left:801.0px;top:2704.4px;width:34.7px;height:1.4px;background:#000;"></div>
<span id="t209" style="position:absolute;top:2720.51px;font-family:'Liberation Sans', sans-serif;font-size:17.8px;line-height:17.8px;white-space:nowrap;color:#000;font-weight:700;-webkit-text-stroke:0.4px #000;left:839.60px;transform-origin:0 0;">2</span>
<div style="position:absolute;left:824.0px;top:2729.3px;width:13.5px;height:1.4px;background:#000;"></div>
<span id="t210" style="position:absolute;top:2748.31px;font-family:'Liberation Sans', sans-serif;font-size:17.8px;line-height:17.8px;white-space:nowrap;color:#000;font-weight:700;-webkit-text-stroke:0.4px #000;left:761.80px;transform-origin:0 0;">3</span>
<div style="position:absolute;left:743.1px;top:2758.3px;width:1.4px;height:11.2px;background:#000;"></div>
<div style="position:absolute;left:743.1px;top:2757.6px;width:13.6px;height:1.4px;background:#000;"></div>
<span id="t211" style="position:absolute;top:2801.31px;font-family:'Liberation Sans', sans-serif;font-size:17.8px;line-height:17.8px;white-space:nowrap;color:#000;font-weight:700;-webkit-text-stroke:0.4px #000;left:840.40px;transform-origin:0 0;">2</span>
<div style="position:absolute;left:797.6px;top:2810.2px;width:1.4px;height:11.5px;background:#000;"></div>
<div style="position:absolute;left:797.6px;top:2809.5px;width:40.4px;height:1.4px;background:#000;"></div>
<span id="t212" style="position:absolute;top:2825.81px;font-family:'Liberation Sans', sans-serif;font-size:17.8px;line-height:17.8px;white-space:nowrap;color:#000;font-weight:700;-webkit-text-stroke:0.4px #000;left:843.00px;transform-origin:0 0;">3</span>
<div style="position:absolute;left:824.0px;top:2834.6px;width:14.0px;height:1.4px;background:#000;"></div>
<svg style="position:absolute;left:10.2px;top:2951.9px" width="854.8" height="3"><line x1="1" y1="1.5" x2="853.8" y2="1.5" stroke="#111" stroke-width="1.9" stroke-dasharray="0.01 7.1" stroke-linecap="square"/></svg>
<div style="position:absolute;left:13.2px;top:2984px;width:12px;height:12px;border-radius:50%;background:#000"></div>
<span id="t213" style="position:absolute;top:2969.68px;font-family:'Liberation Serif', serif;font-size:32px;line-height:32px;white-space:nowrap;color:#000;font-style:italic;-webkit-text-stroke:0.22px #000;left:29.60px;transform-origin:0 0;transform:scaleX(1.0383);">odpowiedzi według miejsca zamieszkania* (proc.)</span>
<span id="t214" style="position:absolute;top:3030.04px;font-family:'Liberation Sans', sans-serif;font-size:20px;line-height:20px;white-space:nowrap;color:#000;left:39.50px;transform-origin:0 0;transform:scaleX(1.0073);">WIEŚ</span>
<div style="position:absolute;left:222.0px;top:3028.0px;width:241.1px;height:23.8px;background:#0a56a5;"></div>
<span id="t215" style="position:absolute;top:3029.99px;font-family:'Liberation Sans', sans-serif;font-size:21px;line-height:21px;white-space:nowrap;color:#fff;font-weight:700;-webkit-text-stroke:0.4px #fff;left:228.20px;transform-origin:0 0;">40</span>
<div style="position:absolute;left:462.8px;top:3028.0px;width:199.0px;height:23.8px;background:#aedcf6;"></div>
<span id="t216" style="position:absolute;top:3029.99px;font-family:'Liberation Sans', sans-serif;font-size:21px;line-height:21px;white-space:nowrap;color:#000;font-weight:700;-webkit-text-stroke:0.4px #000;left:469.00px;transform-origin:0 0;">33</span>
<div style="position:absolute;left:661.5px;top:3028.0px;width:150.8px;height:23.8px;background:#f5b0a5;"></div>
<span id="t217" style="position:absolute;top:3029.99px;font-family:'Liberation Sans', sans-serif;font-size:21px;line-height:21px;white-space:nowrap;color:#000;font-weight:700;-webkit-text-stroke:0.4px #000;left:667.66px;transform-origin:0 0;">25</span>
<div style="position:absolute;left:812.0px;top:3028.0px;width:12.3px;height:23.8px;background:#ba0e0e;"></div>
<span id="t218" style="position:absolute;top:3067.24px;font-family:'Liberation Sans', sans-serif;font-size:20px;line-height:20px;white-space:nowrap;color:#000;left:39.50px;transform-origin:0 0;transform:scaleX(1.0465);">MAŁE</span>
<span id="t219" style="position:absolute;top:3087.54px;font-family:'Liberation Sans', sans-serif;font-size:20px;line-height:20px;white-space:nowrap;color:#000;left:39.50px;transform-origin:0 0;transform:scaleX(1.0798);">MIASTO</span>
<div style="position:absolute;left:222.0px;top:3080.5px;width:114.7px;height:23.8px;background:#0a56a5;"></div>
<span id="t220" style="position:absolute;top:3082.49px;font-family:'Liberation Sans', sans-serif;font-size:21px;line-height:21px;white-space:nowrap;color:#fff;font-weight:700;-webkit-text-stroke:0.4px #fff;left:229.46px;transform-origin:0 0;"><span style="margin:0 -0.05em 0 -0.09em">1</span>9</span>
<div style="position:absolute;left:336.4px;top:3080.5px;width:150.8px;height:23.8px;background:#aedcf6;"></div>
<span id="t221" style="position:absolute;top:3082.49px;font-family:'Liberation Sans', sans-serif;font-size:21px;line-height:21px;white-space:nowrap;color:#000;font-weight:700;-webkit-text-stroke:0.4px #000;left:342.58px;transform-origin:0 0;">25</span>
<div style="position:absolute;left:486.9px;top:3080.5px;width:211.0px;height:23.8px;background:#f5b0a5;"></div>
<span id="t222" style="position:absolute;top:3082.49px;font-family:'Liberation Sans', sans-serif;font-size:21px;line-height:21px;white-space:nowrap;color:#000;font-weight:700;-webkit-text-stroke:0.4px #000;left:493.08px;transform-origin:0 0;">35</span>
<div style="position:absolute;left:697.6px;top:3080.5px;width:54.5px;height:23.8px;background:#ba0e0e;"></div>
<div style="position:absolute;left:751.8px;top:3080.5px;width:72.5px;height:23.8px;background:#d4d4d4;"></div>
<span id="t223" style="position:absolute;top:3124.24px;font-family:'Liberation Sans', sans-serif;font-size:20px;line-height:20px;white-space:nowrap;color:#000;left:39.50px;transform-origin:0 0;">ŚREDNIE</span>
<span id="t224" style="position:absolute;top:3144.14px;font-family:'Liberation Sans', sans-serif;font-size:20px;line-height:20px;white-space:nowrap;color:#000;left:39.50px;transform-origin:0 0;transform:scaleX(1.0798);">MIASTO</span>
<div style="position:absolute;left:222.0px;top:3135.0px;width:162.8px;height:23.8px;background:#0a56a5;"></div>
<span id="t225" style="position:absolute;top:3136.99px;font-family:'Liberation Sans', sans-serif;font-size:21px;line-height:21px;white-space:nowrap;color:#fff;font-weight:700;-webkit-text-stroke:0.4px #fff;left:228.20px;transform-origin:0 0;">27</span>
<div style="position:absolute;left:384.5px;top:3135.0px;width:217.0px;height:23.8px;background:#aedcf6;"></div>
<span id="t226" style="position:absolute;top:3136.99px;font-family:'Liberation Sans', sans-serif;font-size:21px;line-height:21px;white-space:nowrap;color:#000;font-weight:700;-webkit-text-stroke:0.4px #000;left:390.74px;transform-origin:0 0;">36</span>
<div style="position:absolute;left:601.3px;top:3135.0px;width:150.8px;height:23.8px;background:#f5b0a5;"></div>
<span id="t227" style="position:absolute;top:3136.99px;font-family:'Liberation Sans', sans-serif;font-size:21px;line-height:21px;white-space:nowrap;color:#000;font-weight:700;-webkit-text-stroke:0.4px #000;left:607.46px;transform-origin:0 0;">25</span>
<div style="position:absolute;left:751.8px;top:3135.0px;width:42.4px;height:23.8px;background:#ba0e0e;"></div>
<span id="t228" style="position:absolute;top:3136.99px;font-family:'Liberation Sans', sans-serif;font-size:21px;line-height:21px;white-space:nowrap;color:#fff;font-weight:700;-webkit-text-stroke:0.4px #fff;left:757.96px;transform-origin:0 0;">7</span>
<div style="position:absolute;left:793.9px;top:3135.0px;width:30.4px;height:23.8px;background:#d4d4d4;"></div>
<span id="t229" style="position:absolute;top:3181.04px;font-family:'Liberation Sans', sans-serif;font-size:20px;line-height:20px;white-space:nowrap;color:#000;left:39.50px;transform-origin:0 0;transform:scaleX(1.0284);">DUŻE</span>
<span id="t230" style="position:absolute;top:3201.24px;font-family:'Liberation Sans', sans-serif;font-size:20px;line-height:20px;white-space:nowrap;color:#000;left:39.50px;transform-origin:0 0;transform:scaleX(1.0798);">MIASTO</span>
<div style="position:absolute;left:222.0px;top:3188.3px;width:156.8px;height:23.8px;background:#0a56a5;"></div>
<span id="t231" style="position:absolute;top:3190.29px;font-family:'Liberation Sans', sans-serif;font-size:21px;line-height:21px;white-space:nowrap;color:#fff;font-weight:700;-webkit-text-stroke:0.4px #fff;left:228.20px;transform-origin:0 0;">26</span>
<div style="position:absolute;left:378.5px;top:3188.3px;width:247.1px;height:23.8px;background:#aedcf6;"></div>
<span id="t232" style="position:absolute;top:3190.29px;font-family:'Liberation Sans', sans-serif;font-size:21px;line-height:21px;white-space:nowrap;color:#000;font-weight:700;-webkit-text-stroke:0.4px #000;left:384.72px;transform-origin:0 0;">4<span style="margin:0 -0.05em 0 -0.09em">1</span></span>
<div style="position:absolute;left:625.3px;top:3188.3px;width:90.6px;height:23.8px;background:#f5b0a5;"></div>
<span id="t233" style="position:absolute;top:3190.29px;font-family:'Liberation Sans', sans-serif;font-size:21px;line-height:21px;white-space:nowrap;color:#000;font-weight:700;-webkit-text-stroke:0.4px #000;left:632.80px;transform-origin:0 0;"><span style="margin:0 -0.05em 0 -0.09em">1</span>5</span>
<div style="position:absolute;left:715.6px;top:3188.3px;width:60.5px;height:23.8px;background:#ba0e0e;"></div>
<span id="t234" style="position:absolute;top:3190.29px;font-family:'Liberation Sans', sans-serif;font-size:21px;line-height:21px;white-space:nowrap;color:#fff;font-weight:700;-webkit-text-stroke:0.4px #fff;left:723.10px;transform-origin:0 0;"><span style="margin:0 -0.05em 0 -0.09em">1</span>0</span>
<div style="position:absolute;left:775.8px;top:3188.3px;width:48.5px;height:23.8px;background:#d4d4d4;"></div>
<span id="t235" style="position:absolute;top:3032.29px;font-family:'Liberation Sans', sans-serif;font-size:21px;line-height:21px;white-space:nowrap;color:#000;font-weight:700;-webkit-text-stroke:0.4px #000;left:845.20px;transform-origin:0 0;">2</span>
<div style="position:absolute;left:823.7px;top:3039.7px;width:14.6px;height:1.5px;background:#000;"></div>
<span id="t236" style="position:absolute;top:3082.49px;font-family:'Liberation Sans', sans-serif;font-size:21px;line-height:21px;white-space:nowrap;color:#000;font-weight:700;-webkit-text-stroke:0.4px #000;left:799.85px;transform-origin:0 0;"><span style="margin:0 -0.05em 0 -0.09em">1</span>2</span>
<span id="t237" style="position:absolute;top:3136.99px;font-family:'Liberation Sans', sans-serif;font-size:21px;line-height:21px;white-space:nowrap;color:#000;font-weight:700;-webkit-text-stroke:0.4px #000;left:808.61px;transform-origin:0 0;">5</span>
<span id="t238" style="position:absolute;top:3190.29px;font-family:'Liberation Sans', sans-serif;font-size:21px;line-height:21px;white-space:nowrap;color:#000;font-weight:700;-webkit-text-stroke:0.4px #000;left:807.91px;transform-origin:0 0;">8</span>
<span id="t239" style="position:absolute;top:3082.49px;font-family:'Liberation Sans', sans-serif;font-size:21px;line-height:21px;white-space:nowrap;color:#fff;font-weight:700;-webkit-text-stroke:0.4px #fff;left:707.00px;transform-origin:0 0;">9</span>
<span id="t240" style="position:absolute;top:3263.19px;font-family:'Liberation Sans', sans-serif;font-size:21px;line-height:21px;white-space:nowrap;color:#000;left:33.00px;transform-origin:0 0;transform:scaleX(1.0459);">* <b>małe miasto</b> – do 50 tys. mieszkańców,&nbsp; <b>średnie miasto</b> – od 50 tys.</span>
<span id="t241" style="position:absolute;top:3287.79px;font-family:'Liberation Sans', sans-serif;font-size:21px;line-height:21px;white-space:nowrap;color:#000;left:42.80px;transform-origin:0 0;transform:scaleX(1.0445);">do 250 tys., <b>duże miasto</b> – powyżej 250 tys.</span>
<span id="t242" style="position:absolute;top:3250.50px;font-family:'Liberation Sans', sans-serif;font-size:14.5px;line-height:14.5px;white-space:nowrap;color:#000;left:838.30px;transform-origin:0 0;transform:scaleX(1.0416);">RM</span>
<svg style="position:absolute;left:818px;top:3269px" width="50" height="24" viewBox="0 0 50 24"><g fill="none" stroke="#d8141c"><circle cx="12.15" cy="11.75" r="9.4" stroke-width="1.9"/><circle cx="36.35" cy="11.75" r="9.4" stroke-width="1.9"/><path d="M15.3 8.6 A4.4 4.4 0 1 0 15.3 14.9" stroke-width="3"/><path d="M33.4 16.9 V6.9" stroke-width="3"/><path d="M33.4 8.2 H36.6 A2.6 2.6 0 0 1 36.6 13.4 H33.4" stroke-width="2.7"/></g></svg>
<span id="t243" style="position:absolute;top:3329.46px;font-family:'Liberation Sans', sans-serif;font-size:19.5px;line-height:19.5px;white-space:nowrap;color:#000;left:0.00px;transform-origin:0 0;transform:scaleX(1.0240);">Źródło: sondaż United Surveys dla Dziennika Gazety Prawnej, Dziennik.pl, RMF FM i RMF24.pl</span>
<span id="t244" style="position:absolute;top:3350.26px;font-family:'Liberation Sans', sans-serif;font-size:19.5px;line-height:19.5px;white-space:nowrap;color:#000;left:0.00px;transform-origin:0 0;transform:scaleX(1.0272);">wykonany 17–19.02.2023 r. na ogólnopolskiej próbie 1000 pełnoletnich mieszkańców Polski</span>
<span id="t245" style="position:absolute;top:3370.46px;font-family:'Liberation Sans', sans-serif;font-size:19.5px;line-height:19.5px;white-space:nowrap;color:#000;left:0.00px;transform-origin:0 0;transform:scaleX(1.0699);">metodą telefonicznych wywiadów kwestionariuszowych wspomaganych komputerowo (CATI)</span>
</div></body></html>
